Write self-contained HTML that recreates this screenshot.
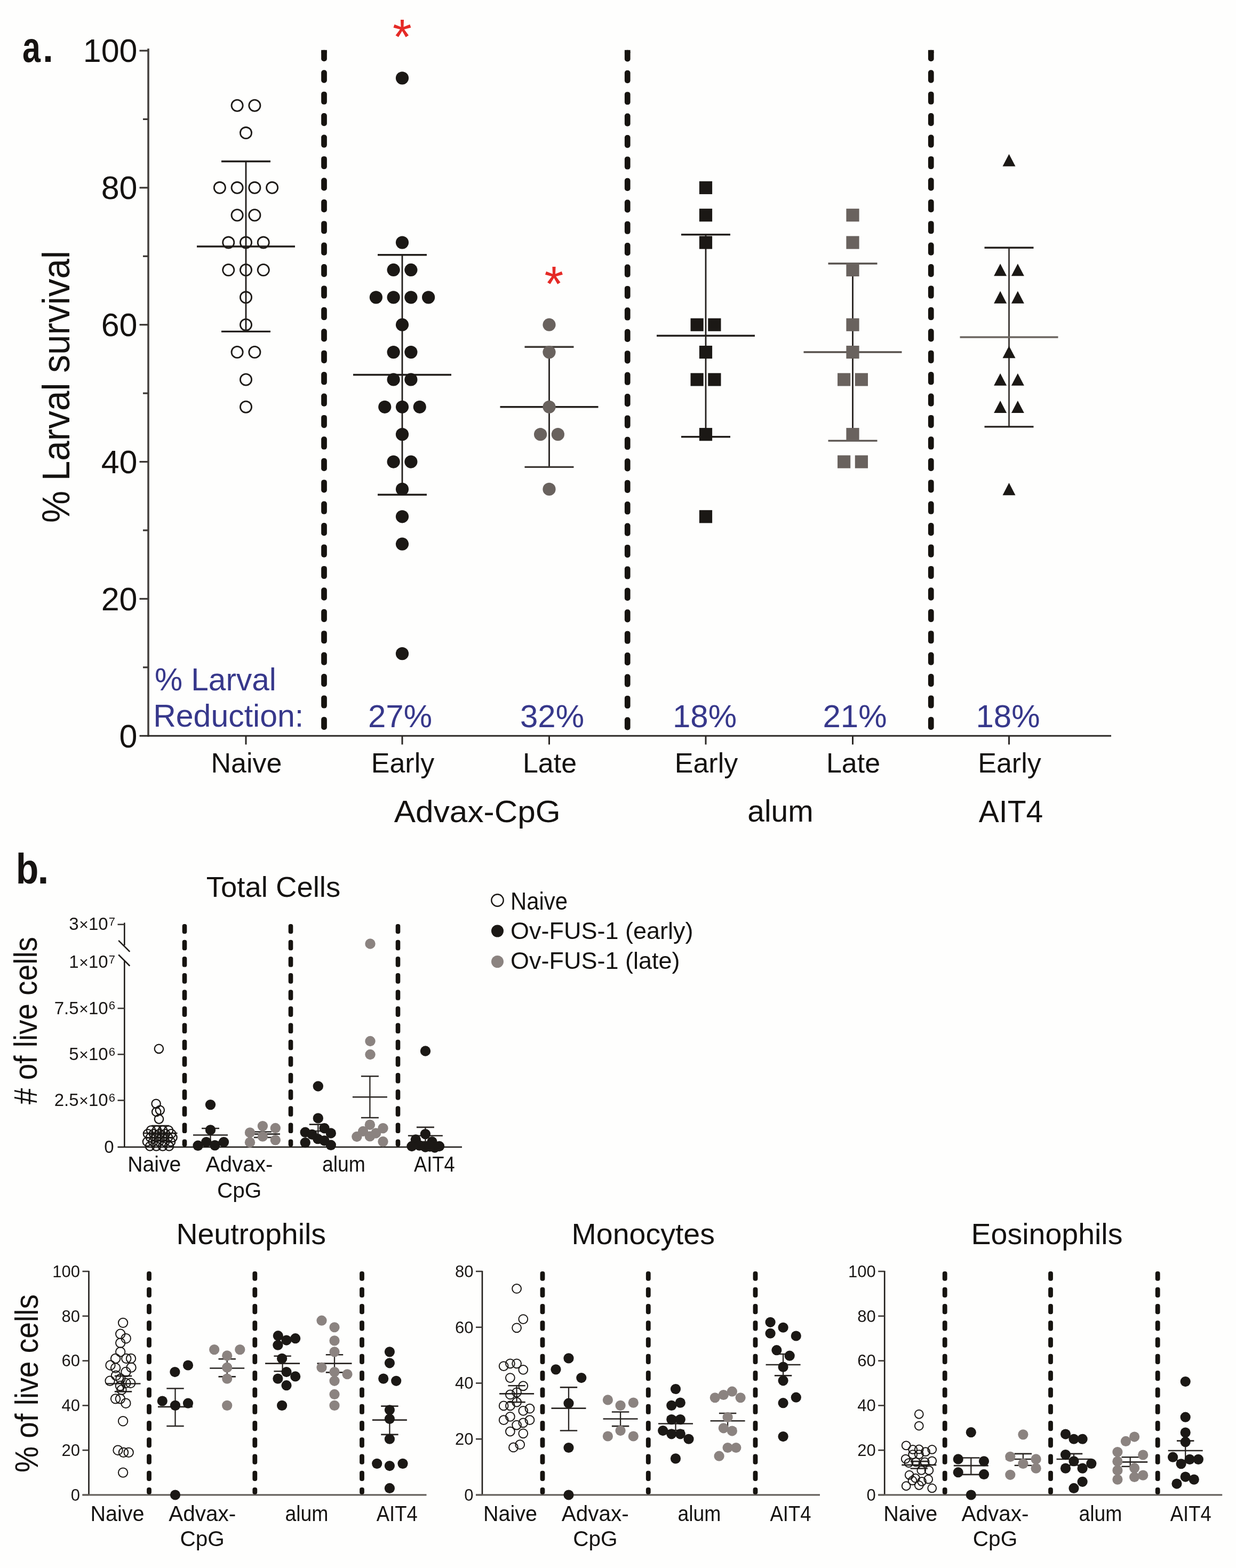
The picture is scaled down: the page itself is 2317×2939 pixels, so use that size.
<!DOCTYPE html>
<html><head><meta charset="utf-8"><title>Figure</title>
<style>
html,body{margin:0;padding:0;background:#fefefd;}
body{width:2317px;height:2939px;overflow:hidden;}
svg{display:block;}
</style></head>
<body>
<svg width="2317" height="2939" viewBox="0 0 2317 2939">
<rect width="2317" height="2939" fill="#fefefd"/>
<g font-family="'Liberation Sans', Arial, Helvetica, sans-serif">
<text x="41.9" y="115.5" font-size="80" text-anchor="start" fill="#161311" font-weight="bold" textLength="33.9" lengthAdjust="spacingAndGlyphs">a</text>
<text x="80.1" y="115.5" font-size="72" text-anchor="start" fill="#161311" font-weight="bold" >.</text>
<line x1="278" y1="91" x2="278" y2="1381" stroke="#45413e" stroke-width="3.6" stroke-linecap="butt"/>
<text x="257.5" y="1400.55" font-size="61" text-anchor="end" fill="#141210" font-weight="normal" >0</text>
<line x1="268" y1="1250.83" x2="278" y2="1250.83" stroke="#3a3633" stroke-width="3.2" stroke-linecap="butt"/>
<line x1="261.5" y1="1122.4" x2="278" y2="1122.4" stroke="#3a3633" stroke-width="3.2" stroke-linecap="butt"/>
<text x="257.5" y="1143.7" font-size="61" text-anchor="end" fill="#141210" font-weight="normal" >20</text>
<line x1="268" y1="993.98" x2="278" y2="993.98" stroke="#3a3633" stroke-width="3.2" stroke-linecap="butt"/>
<line x1="261.5" y1="865.55" x2="278" y2="865.55" stroke="#3a3633" stroke-width="3.2" stroke-linecap="butt"/>
<text x="257.5" y="886.85" font-size="61" text-anchor="end" fill="#141210" font-weight="normal" >40</text>
<line x1="268" y1="737.12" x2="278" y2="737.12" stroke="#3a3633" stroke-width="3.2" stroke-linecap="butt"/>
<line x1="261.5" y1="608.7" x2="278" y2="608.7" stroke="#3a3633" stroke-width="3.2" stroke-linecap="butt"/>
<text x="257.5" y="630" font-size="61" text-anchor="end" fill="#141210" font-weight="normal" >60</text>
<line x1="268" y1="480.28" x2="278" y2="480.28" stroke="#3a3633" stroke-width="3.2" stroke-linecap="butt"/>
<line x1="261.5" y1="351.85" x2="278" y2="351.85" stroke="#3a3633" stroke-width="3.2" stroke-linecap="butt"/>
<text x="257.5" y="373.15" font-size="61" text-anchor="end" fill="#141210" font-weight="normal" >80</text>
<line x1="268" y1="223.42" x2="278" y2="223.42" stroke="#3a3633" stroke-width="3.2" stroke-linecap="butt"/>
<line x1="261.5" y1="95" x2="278" y2="95" stroke="#3a3633" stroke-width="3.2" stroke-linecap="butt"/>
<text x="257.5" y="116.3" font-size="61" text-anchor="end" fill="#141210" font-weight="normal" >100</text>
<text transform="translate(130,980) rotate(-90)" font-size="73" fill="#141210" textLength="510" lengthAdjust="spacingAndGlyphs">% Larval  survival</text>
<line x1="261.5" y1="1379.25" x2="2083" y2="1379.25" stroke="#2b2825" stroke-width="3.2" stroke-linecap="butt"/>
<line x1="461" y1="1379.25" x2="461" y2="1395.5" stroke="#2b2825" stroke-width="3" stroke-linecap="butt"/>
<line x1="754" y1="1379.25" x2="754" y2="1395.5" stroke="#2b2825" stroke-width="3" stroke-linecap="butt"/>
<line x1="1029.5" y1="1379.25" x2="1029.5" y2="1395.5" stroke="#2b2825" stroke-width="3" stroke-linecap="butt"/>
<line x1="1323" y1="1379.25" x2="1323" y2="1395.5" stroke="#2b2825" stroke-width="3" stroke-linecap="butt"/>
<line x1="1598.5" y1="1379.25" x2="1598.5" y2="1395.5" stroke="#2b2825" stroke-width="3" stroke-linecap="butt"/>
<line x1="1891.5" y1="1379.25" x2="1891.5" y2="1395.5" stroke="#2b2825" stroke-width="3" stroke-linecap="butt"/>
<text x="462" y="1447.5" font-size="52" text-anchor="middle" fill="#141210" font-weight="normal" >Naive</text>
<text x="755" y="1447.5" font-size="52" text-anchor="middle" fill="#141210" font-weight="normal" >Early</text>
<text x="1030.5" y="1447.5" font-size="52" text-anchor="middle" fill="#141210" font-weight="normal" >Late</text>
<text x="1324" y="1447.5" font-size="52" text-anchor="middle" fill="#141210" font-weight="normal" >Early</text>
<text x="1599.5" y="1447.5" font-size="52" text-anchor="middle" fill="#141210" font-weight="normal" >Late</text>
<text x="1892.5" y="1447.5" font-size="52" text-anchor="middle" fill="#141210" font-weight="normal" >Early</text>
<text x="894.8" y="1541" font-size="57" text-anchor="middle" fill="#141210" font-weight="normal" textLength="312" lengthAdjust="spacingAndGlyphs">Advax-CpG</text>
<text x="1463" y="1540" font-size="57" text-anchor="middle" fill="#141210" font-weight="normal" >alum</text>
<text x="1895" y="1541" font-size="57" text-anchor="middle" fill="#141210" font-weight="normal" >AIT4</text>
<rect x="602.15" y="93.8" width="10.7" height="21.2" rx="4.81" fill="#16130f"/>
<rect x="602.15" y="93.8" width="10.7" height="5.35" fill="#16130f"/>
<rect x="602.15" y="131.22" width="10.7" height="24.2" rx="4.81" fill="#16130f"/>
<rect x="602.15" y="171.64" width="10.7" height="24.2" rx="4.81" fill="#16130f"/>
<rect x="602.15" y="212.06" width="10.7" height="24.2" rx="4.81" fill="#16130f"/>
<rect x="602.15" y="252.48" width="10.7" height="24.2" rx="4.81" fill="#16130f"/>
<rect x="602.15" y="292.9" width="10.7" height="24.2" rx="4.81" fill="#16130f"/>
<rect x="602.15" y="333.32" width="10.7" height="24.2" rx="4.81" fill="#16130f"/>
<rect x="602.15" y="373.74" width="10.7" height="24.2" rx="4.81" fill="#16130f"/>
<rect x="602.15" y="414.16" width="10.7" height="24.2" rx="4.81" fill="#16130f"/>
<rect x="602.15" y="454.58" width="10.7" height="24.2" rx="4.81" fill="#16130f"/>
<rect x="602.15" y="495" width="10.7" height="24.2" rx="4.81" fill="#16130f"/>
<rect x="602.15" y="535.42" width="10.7" height="24.2" rx="4.81" fill="#16130f"/>
<rect x="602.15" y="575.84" width="10.7" height="24.2" rx="4.81" fill="#16130f"/>
<rect x="602.15" y="616.26" width="10.7" height="24.2" rx="4.81" fill="#16130f"/>
<rect x="602.15" y="656.68" width="10.7" height="24.2" rx="4.81" fill="#16130f"/>
<rect x="602.15" y="697.1" width="10.7" height="24.2" rx="4.81" fill="#16130f"/>
<rect x="602.15" y="737.52" width="10.7" height="24.2" rx="4.81" fill="#16130f"/>
<rect x="602.15" y="777.94" width="10.7" height="24.2" rx="4.81" fill="#16130f"/>
<rect x="602.15" y="818.36" width="10.7" height="24.2" rx="4.81" fill="#16130f"/>
<rect x="602.15" y="858.78" width="10.7" height="24.2" rx="4.81" fill="#16130f"/>
<rect x="602.15" y="899.2" width="10.7" height="24.2" rx="4.81" fill="#16130f"/>
<rect x="602.15" y="939.62" width="10.7" height="24.2" rx="4.81" fill="#16130f"/>
<rect x="602.15" y="980.04" width="10.7" height="24.2" rx="4.81" fill="#16130f"/>
<rect x="602.15" y="1020.46" width="10.7" height="24.2" rx="4.81" fill="#16130f"/>
<rect x="602.15" y="1060.88" width="10.7" height="24.2" rx="4.81" fill="#16130f"/>
<rect x="602.15" y="1101.3" width="10.7" height="24.2" rx="4.81" fill="#16130f"/>
<rect x="602.15" y="1141.72" width="10.7" height="24.2" rx="4.81" fill="#16130f"/>
<rect x="602.15" y="1182.14" width="10.7" height="24.2" rx="4.81" fill="#16130f"/>
<rect x="602.15" y="1222.56" width="10.7" height="24.2" rx="4.81" fill="#16130f"/>
<rect x="602.15" y="1262.98" width="10.7" height="24.2" rx="4.81" fill="#16130f"/>
<rect x="602.15" y="1303.4" width="10.7" height="24.2" rx="4.81" fill="#16130f"/>
<rect x="602.15" y="1343.82" width="10.7" height="24.2" rx="4.81" fill="#16130f"/>
<rect x="1170.9" y="93.8" width="10.7" height="21.7" rx="4.81" fill="#16130f"/>
<rect x="1170.9" y="93.8" width="10.7" height="5.35" fill="#16130f"/>
<rect x="1170.9" y="131.72" width="10.7" height="24.2" rx="4.81" fill="#16130f"/>
<rect x="1170.9" y="172.14" width="10.7" height="24.2" rx="4.81" fill="#16130f"/>
<rect x="1170.9" y="212.56" width="10.7" height="24.2" rx="4.81" fill="#16130f"/>
<rect x="1170.9" y="252.98" width="10.7" height="24.2" rx="4.81" fill="#16130f"/>
<rect x="1170.9" y="293.4" width="10.7" height="24.2" rx="4.81" fill="#16130f"/>
<rect x="1170.9" y="333.82" width="10.7" height="24.2" rx="4.81" fill="#16130f"/>
<rect x="1170.9" y="374.24" width="10.7" height="24.2" rx="4.81" fill="#16130f"/>
<rect x="1170.9" y="414.66" width="10.7" height="24.2" rx="4.81" fill="#16130f"/>
<rect x="1170.9" y="455.08" width="10.7" height="24.2" rx="4.81" fill="#16130f"/>
<rect x="1170.9" y="495.5" width="10.7" height="24.2" rx="4.81" fill="#16130f"/>
<rect x="1170.9" y="535.92" width="10.7" height="24.2" rx="4.81" fill="#16130f"/>
<rect x="1170.9" y="576.34" width="10.7" height="24.2" rx="4.81" fill="#16130f"/>
<rect x="1170.9" y="616.76" width="10.7" height="24.2" rx="4.81" fill="#16130f"/>
<rect x="1170.9" y="657.18" width="10.7" height="24.2" rx="4.81" fill="#16130f"/>
<rect x="1170.9" y="697.6" width="10.7" height="24.2" rx="4.81" fill="#16130f"/>
<rect x="1170.9" y="738.02" width="10.7" height="24.2" rx="4.81" fill="#16130f"/>
<rect x="1170.9" y="778.44" width="10.7" height="24.2" rx="4.81" fill="#16130f"/>
<rect x="1170.9" y="818.86" width="10.7" height="24.2" rx="4.81" fill="#16130f"/>
<rect x="1170.9" y="859.28" width="10.7" height="24.2" rx="4.81" fill="#16130f"/>
<rect x="1170.9" y="899.7" width="10.7" height="24.2" rx="4.81" fill="#16130f"/>
<rect x="1170.9" y="940.12" width="10.7" height="24.2" rx="4.81" fill="#16130f"/>
<rect x="1170.9" y="980.54" width="10.7" height="24.2" rx="4.81" fill="#16130f"/>
<rect x="1170.9" y="1020.96" width="10.7" height="24.2" rx="4.81" fill="#16130f"/>
<rect x="1170.9" y="1061.38" width="10.7" height="24.2" rx="4.81" fill="#16130f"/>
<rect x="1170.9" y="1101.8" width="10.7" height="24.2" rx="4.81" fill="#16130f"/>
<rect x="1170.9" y="1142.22" width="10.7" height="24.2" rx="4.81" fill="#16130f"/>
<rect x="1170.9" y="1182.64" width="10.7" height="24.2" rx="4.81" fill="#16130f"/>
<rect x="1170.9" y="1223.06" width="10.7" height="24.2" rx="4.81" fill="#16130f"/>
<rect x="1170.9" y="1263.48" width="10.7" height="24.2" rx="4.81" fill="#16130f"/>
<rect x="1170.9" y="1303.9" width="10.7" height="24.2" rx="4.81" fill="#16130f"/>
<rect x="1170.9" y="1344.32" width="10.7" height="24.18" rx="4.81" fill="#16130f"/>
<rect x="1739.9" y="93.8" width="10.7" height="21.2" rx="4.81" fill="#16130f"/>
<rect x="1739.9" y="93.8" width="10.7" height="5.35" fill="#16130f"/>
<rect x="1739.9" y="131.22" width="10.7" height="24.2" rx="4.81" fill="#16130f"/>
<rect x="1739.9" y="171.64" width="10.7" height="24.2" rx="4.81" fill="#16130f"/>
<rect x="1739.9" y="212.06" width="10.7" height="24.2" rx="4.81" fill="#16130f"/>
<rect x="1739.9" y="252.48" width="10.7" height="24.2" rx="4.81" fill="#16130f"/>
<rect x="1739.9" y="292.9" width="10.7" height="24.2" rx="4.81" fill="#16130f"/>
<rect x="1739.9" y="333.32" width="10.7" height="24.2" rx="4.81" fill="#16130f"/>
<rect x="1739.9" y="373.74" width="10.7" height="24.2" rx="4.81" fill="#16130f"/>
<rect x="1739.9" y="414.16" width="10.7" height="24.2" rx="4.81" fill="#16130f"/>
<rect x="1739.9" y="454.58" width="10.7" height="24.2" rx="4.81" fill="#16130f"/>
<rect x="1739.9" y="495" width="10.7" height="24.2" rx="4.81" fill="#16130f"/>
<rect x="1739.9" y="535.42" width="10.7" height="24.2" rx="4.81" fill="#16130f"/>
<rect x="1739.9" y="575.84" width="10.7" height="24.2" rx="4.81" fill="#16130f"/>
<rect x="1739.9" y="616.26" width="10.7" height="24.2" rx="4.81" fill="#16130f"/>
<rect x="1739.9" y="656.68" width="10.7" height="24.2" rx="4.81" fill="#16130f"/>
<rect x="1739.9" y="697.1" width="10.7" height="24.2" rx="4.81" fill="#16130f"/>
<rect x="1739.9" y="737.52" width="10.7" height="24.2" rx="4.81" fill="#16130f"/>
<rect x="1739.9" y="777.94" width="10.7" height="24.2" rx="4.81" fill="#16130f"/>
<rect x="1739.9" y="818.36" width="10.7" height="24.2" rx="4.81" fill="#16130f"/>
<rect x="1739.9" y="858.78" width="10.7" height="24.2" rx="4.81" fill="#16130f"/>
<rect x="1739.9" y="899.2" width="10.7" height="24.2" rx="4.81" fill="#16130f"/>
<rect x="1739.9" y="939.62" width="10.7" height="24.2" rx="4.81" fill="#16130f"/>
<rect x="1739.9" y="980.04" width="10.7" height="24.2" rx="4.81" fill="#16130f"/>
<rect x="1739.9" y="1020.46" width="10.7" height="24.2" rx="4.81" fill="#16130f"/>
<rect x="1739.9" y="1060.88" width="10.7" height="24.2" rx="4.81" fill="#16130f"/>
<rect x="1739.9" y="1101.3" width="10.7" height="24.2" rx="4.81" fill="#16130f"/>
<rect x="1739.9" y="1141.72" width="10.7" height="24.2" rx="4.81" fill="#16130f"/>
<rect x="1739.9" y="1182.14" width="10.7" height="24.2" rx="4.81" fill="#16130f"/>
<rect x="1739.9" y="1222.56" width="10.7" height="24.2" rx="4.81" fill="#16130f"/>
<rect x="1739.9" y="1262.98" width="10.7" height="24.2" rx="4.81" fill="#16130f"/>
<rect x="1739.9" y="1303.4" width="10.7" height="24.2" rx="4.81" fill="#16130f"/>
<rect x="1739.9" y="1343.82" width="10.7" height="24.2" rx="4.81" fill="#16130f"/>
<text x="289.9" y="1294" font-size="60" text-anchor="start" fill="#37388b" font-weight="normal" textLength="228" lengthAdjust="spacingAndGlyphs">% Larval</text>
<text x="287.2" y="1362" font-size="60" text-anchor="start" fill="#37388b" font-weight="normal" textLength="282" lengthAdjust="spacingAndGlyphs">Reduction:</text>
<text x="750" y="1362.5" font-size="60" text-anchor="middle" fill="#37388b" font-weight="normal" >27%</text>
<text x="1035" y="1362.5" font-size="60" text-anchor="middle" fill="#37388b" font-weight="normal" >32%</text>
<text x="1321" y="1362.5" font-size="60" text-anchor="middle" fill="#37388b" font-weight="normal" >18%</text>
<text x="1602.5" y="1362.5" font-size="60" text-anchor="middle" fill="#37388b" font-weight="normal" >21%</text>
<text x="1889.5" y="1362.5" font-size="60" text-anchor="middle" fill="#37388b" font-weight="normal" >18%</text>
<line x1="461" y1="302.53" x2="461" y2="621.33" stroke="#221e1b" stroke-width="2.8" stroke-linecap="butt"/>
<line x1="415" y1="302.53" x2="507" y2="302.53" stroke="#221e1b" stroke-width="3.4" stroke-linecap="butt"/>
<line x1="415" y1="621.33" x2="507" y2="621.33" stroke="#221e1b" stroke-width="3.4" stroke-linecap="butt"/>
<line x1="369" y1="461.93" x2="553" y2="461.93" stroke="#221e1b" stroke-width="3.6" stroke-linecap="butt"/>
<circle cx="444.62" cy="197.74" r="10.6" fill="none" stroke="#1e1b18" stroke-width="2.8"/>
<circle cx="477.38" cy="197.74" r="10.6" fill="none" stroke="#1e1b18" stroke-width="2.8"/>
<circle cx="461" cy="249.11" r="10.6" fill="none" stroke="#1e1b18" stroke-width="2.8"/>
<circle cx="411.88" cy="351.85" r="10.6" fill="none" stroke="#1e1b18" stroke-width="2.8"/>
<circle cx="444.62" cy="351.85" r="10.6" fill="none" stroke="#1e1b18" stroke-width="2.8"/>
<circle cx="477.38" cy="351.85" r="10.6" fill="none" stroke="#1e1b18" stroke-width="2.8"/>
<circle cx="510.12" cy="351.85" r="10.6" fill="none" stroke="#1e1b18" stroke-width="2.8"/>
<circle cx="444.62" cy="403.22" r="10.6" fill="none" stroke="#1e1b18" stroke-width="2.8"/>
<circle cx="477.38" cy="403.22" r="10.6" fill="none" stroke="#1e1b18" stroke-width="2.8"/>
<circle cx="428.25" cy="454.59" r="10.6" fill="none" stroke="#1e1b18" stroke-width="2.8"/>
<circle cx="461" cy="454.59" r="10.6" fill="none" stroke="#1e1b18" stroke-width="2.8"/>
<circle cx="493.75" cy="454.59" r="10.6" fill="none" stroke="#1e1b18" stroke-width="2.8"/>
<circle cx="428.25" cy="505.96" r="10.6" fill="none" stroke="#1e1b18" stroke-width="2.8"/>
<circle cx="461" cy="505.96" r="10.6" fill="none" stroke="#1e1b18" stroke-width="2.8"/>
<circle cx="493.75" cy="505.96" r="10.6" fill="none" stroke="#1e1b18" stroke-width="2.8"/>
<circle cx="461" cy="557.33" r="10.6" fill="none" stroke="#1e1b18" stroke-width="2.8"/>
<circle cx="461" cy="608.7" r="10.6" fill="none" stroke="#1e1b18" stroke-width="2.8"/>
<circle cx="444.62" cy="660.07" r="10.6" fill="none" stroke="#1e1b18" stroke-width="2.8"/>
<circle cx="477.38" cy="660.07" r="10.6" fill="none" stroke="#1e1b18" stroke-width="2.8"/>
<circle cx="461" cy="711.44" r="10.6" fill="none" stroke="#1e1b18" stroke-width="2.8"/>
<circle cx="461" cy="762.81" r="10.6" fill="none" stroke="#1e1b18" stroke-width="2.8"/>
<line x1="754" y1="477.71" x2="754" y2="927.31" stroke="#221e1b" stroke-width="2.8" stroke-linecap="butt"/>
<line x1="708" y1="477.71" x2="800" y2="477.71" stroke="#221e1b" stroke-width="3.4" stroke-linecap="butt"/>
<line x1="708" y1="927.31" x2="800" y2="927.31" stroke="#221e1b" stroke-width="3.4" stroke-linecap="butt"/>
<line x1="662" y1="702.51" x2="846" y2="702.51" stroke="#221e1b" stroke-width="3.6" stroke-linecap="butt"/>
<circle cx="754" cy="146.37" r="12.1" fill="#1b1815"/>
<circle cx="754" cy="454.59" r="12.1" fill="#1b1815"/>
<circle cx="737.62" cy="505.96" r="12.1" fill="#1b1815"/>
<circle cx="770.38" cy="505.96" r="12.1" fill="#1b1815"/>
<circle cx="704.88" cy="557.33" r="12.1" fill="#1b1815"/>
<circle cx="737.62" cy="557.33" r="12.1" fill="#1b1815"/>
<circle cx="770.38" cy="557.33" r="12.1" fill="#1b1815"/>
<circle cx="803.12" cy="557.33" r="12.1" fill="#1b1815"/>
<circle cx="754" cy="608.7" r="12.1" fill="#1b1815"/>
<circle cx="737.62" cy="660.07" r="12.1" fill="#1b1815"/>
<circle cx="770.38" cy="660.07" r="12.1" fill="#1b1815"/>
<circle cx="737.62" cy="711.44" r="12.1" fill="#1b1815"/>
<circle cx="770.38" cy="711.44" r="12.1" fill="#1b1815"/>
<circle cx="721.25" cy="762.81" r="12.1" fill="#1b1815"/>
<circle cx="754" cy="762.81" r="12.1" fill="#1b1815"/>
<circle cx="786.75" cy="762.81" r="12.1" fill="#1b1815"/>
<circle cx="754" cy="814.18" r="12.1" fill="#1b1815"/>
<circle cx="737.62" cy="865.55" r="12.1" fill="#1b1815"/>
<circle cx="770.38" cy="865.55" r="12.1" fill="#1b1815"/>
<circle cx="754" cy="916.92" r="12.1" fill="#1b1815"/>
<circle cx="754" cy="968.29" r="12.1" fill="#1b1815"/>
<circle cx="754" cy="1019.66" r="12.1" fill="#1b1815"/>
<circle cx="754" cy="1225.14" r="12.1" fill="#1b1815"/>
<line x1="1029.5" y1="650.26" x2="1029.5" y2="875.36" stroke="#24201d" stroke-width="2.8" stroke-linecap="butt"/>
<line x1="983.5" y1="650.26" x2="1075.5" y2="650.26" stroke="#3c3733" stroke-width="3.4" stroke-linecap="butt"/>
<line x1="983.5" y1="875.36" x2="1075.5" y2="875.36" stroke="#3c3733" stroke-width="3.4" stroke-linecap="butt"/>
<line x1="937.5" y1="762.81" x2="1121.5" y2="762.81" stroke="#24201d" stroke-width="3.6" stroke-linecap="butt"/>
<circle cx="1029.5" cy="608.7" r="12.1" fill="#69625e"/>
<circle cx="1029.5" cy="660.07" r="12.1" fill="#69625e"/>
<circle cx="1029.5" cy="762.81" r="12.1" fill="#69625e"/>
<circle cx="1013.12" cy="814.18" r="12.1" fill="#69625e"/>
<circle cx="1045.88" cy="814.18" r="12.1" fill="#69625e"/>
<circle cx="1029.5" cy="916.92" r="12.1" fill="#69625e"/>
<line x1="1323" y1="439.8" x2="1323" y2="818.69" stroke="#221e1b" stroke-width="2.8" stroke-linecap="butt"/>
<line x1="1277" y1="439.8" x2="1369" y2="439.8" stroke="#221e1b" stroke-width="3.4" stroke-linecap="butt"/>
<line x1="1277" y1="818.69" x2="1369" y2="818.69" stroke="#221e1b" stroke-width="3.4" stroke-linecap="butt"/>
<line x1="1231" y1="629.25" x2="1415" y2="629.25" stroke="#221e1b" stroke-width="3.6" stroke-linecap="butt"/>
<rect x="1310.9" y="339.75" width="24.2" height="24.2" fill="#1b1815"/>
<rect x="1310.9" y="391.12" width="24.2" height="24.2" fill="#1b1815"/>
<rect x="1310.9" y="442.49" width="24.2" height="24.2" fill="#1b1815"/>
<rect x="1294.53" y="596.6" width="24.2" height="24.2" fill="#1b1815"/>
<rect x="1327.28" y="596.6" width="24.2" height="24.2" fill="#1b1815"/>
<rect x="1310.9" y="647.97" width="24.2" height="24.2" fill="#1b1815"/>
<rect x="1294.53" y="699.34" width="24.2" height="24.2" fill="#1b1815"/>
<rect x="1327.28" y="699.34" width="24.2" height="24.2" fill="#1b1815"/>
<rect x="1310.9" y="802.08" width="24.2" height="24.2" fill="#1b1815"/>
<rect x="1310.9" y="956.19" width="24.2" height="24.2" fill="#1b1815"/>
<line x1="1598.5" y1="494.05" x2="1598.5" y2="826.09" stroke="#24201d" stroke-width="2.8" stroke-linecap="butt"/>
<line x1="1552.5" y1="494.05" x2="1644.5" y2="494.05" stroke="#57514d" stroke-width="3.4" stroke-linecap="butt"/>
<line x1="1552.5" y1="826.09" x2="1644.5" y2="826.09" stroke="#57514d" stroke-width="3.4" stroke-linecap="butt"/>
<line x1="1506.5" y1="660.07" x2="1690.5" y2="660.07" stroke="#57514d" stroke-width="3.6" stroke-linecap="butt"/>
<rect x="1586.4" y="391.12" width="24.2" height="24.2" fill="#69625e"/>
<rect x="1586.4" y="442.49" width="24.2" height="24.2" fill="#69625e"/>
<rect x="1586.4" y="493.86" width="24.2" height="24.2" fill="#69625e"/>
<rect x="1586.4" y="596.6" width="24.2" height="24.2" fill="#69625e"/>
<rect x="1586.4" y="647.97" width="24.2" height="24.2" fill="#69625e"/>
<rect x="1570.03" y="699.34" width="24.2" height="24.2" fill="#69625e"/>
<rect x="1602.78" y="699.34" width="24.2" height="24.2" fill="#69625e"/>
<rect x="1586.4" y="802.08" width="24.2" height="24.2" fill="#69625e"/>
<rect x="1570.03" y="853.45" width="24.2" height="24.2" fill="#69625e"/>
<rect x="1602.78" y="853.45" width="24.2" height="24.2" fill="#69625e"/>
<line x1="1891.5" y1="464.23" x2="1891.5" y2="799.87" stroke="#3a3531" stroke-width="2.8" stroke-linecap="butt"/>
<line x1="1845.5" y1="464.23" x2="1937.5" y2="464.23" stroke="#24201d" stroke-width="3.4" stroke-linecap="butt"/>
<line x1="1845.5" y1="799.87" x2="1937.5" y2="799.87" stroke="#24201d" stroke-width="3.4" stroke-linecap="butt"/>
<line x1="1799.5" y1="632.05" x2="1983.5" y2="632.05" stroke="#6a645f" stroke-width="3.6" stroke-linecap="butt"/>
<polygon points="1891.5,288.68 1903.5,311.78 1879.5,311.78" fill="#1b1815"/>
<polygon points="1875.12,494.16 1887.12,517.26 1863.12,517.26" fill="#1b1815"/>
<polygon points="1907.88,494.16 1919.88,517.26 1895.88,517.26" fill="#1b1815"/>
<polygon points="1875.12,545.53 1887.12,568.63 1863.12,568.63" fill="#1b1815"/>
<polygon points="1907.88,545.53 1919.88,568.63 1895.88,568.63" fill="#1b1815"/>
<polygon points="1891.5,648.27 1903.5,671.37 1879.5,671.37" fill="#1b1815"/>
<polygon points="1875.12,699.64 1887.12,722.74 1863.12,722.74" fill="#1b1815"/>
<polygon points="1907.88,699.64 1919.88,722.74 1895.88,722.74" fill="#1b1815"/>
<polygon points="1875.12,751.01 1887.12,774.11 1863.12,774.11" fill="#1b1815"/>
<polygon points="1907.88,751.01 1919.88,774.11 1895.88,774.11" fill="#1b1815"/>
<polygon points="1891.5,905.12 1903.5,928.22 1879.5,928.22" fill="#1b1815"/>
<text x="754" y="100.8" font-size="92" text-anchor="middle" fill="#e52a26" font-weight="normal" >*</text>
<text x="1038.5" y="564" font-size="92" text-anchor="middle" fill="#e52a26" font-weight="normal" >*</text>
<text x="29.7" y="1655.5" font-size="80" text-anchor="start" fill="#161311" font-weight="bold" textLength="42.6" lengthAdjust="spacingAndGlyphs">b</text>
<text x="70.3" y="1655.5" font-size="77" text-anchor="start" fill="#161311" font-weight="bold" >.</text>
<text x="512.5" y="1681" font-size="54.5" text-anchor="middle" fill="#141210" font-weight="normal" >Total Cells</text>
<line x1="233.3" y1="1729.5" x2="233.3" y2="1772" stroke="#1f1c19" stroke-width="2.6" stroke-linecap="butt"/>
<line x1="233.3" y1="1801" x2="233.3" y2="2151" stroke="#1f1c19" stroke-width="2.6" stroke-linecap="butt"/>
<line x1="222.2" y1="1762.8" x2="243.3" y2="1783.8" stroke="#1f1c19" stroke-width="2.6" stroke-linecap="butt"/>
<line x1="222.2" y1="1789.5" x2="243.3" y2="1810.5" stroke="#1f1c19" stroke-width="2.6" stroke-linecap="butt"/>
<line x1="220.5" y1="1732.8" x2="233.3" y2="1732.8" stroke="#3a3633" stroke-width="2.6" stroke-linecap="butt"/>
<line x1="220.5" y1="2062.5" x2="233.3" y2="2062.5" stroke="#3a3633" stroke-width="2.6" stroke-linecap="butt"/>
<line x1="220.5" y1="1976.25" x2="233.3" y2="1976.25" stroke="#3a3633" stroke-width="2.6" stroke-linecap="butt"/>
<line x1="220.5" y1="1890" x2="233.3" y2="1890" stroke="#3a3633" stroke-width="2.6" stroke-linecap="butt"/>
<line x1="220.5" y1="2150" x2="866" y2="2150" stroke="#1f1c19" stroke-width="2.6" stroke-linecap="butt"/>
<text x="147.6" y="1743" font-size="33" text-anchor="end" fill="#1a1715">3</text>
<text x="148.2" y="1743" font-size="30" fill="#1a1715">×</text>
<text x="166" y="1743" font-size="33" fill="#1a1715">1</text>
<text x="184.3" y="1743" font-size="33" fill="#1a1715">0</text>
<text x="203.8" y="1734.7" font-size="22" fill="#1a1715">7</text>
<text x="147.6" y="1814" font-size="33" text-anchor="end" fill="#1a1715">1</text>
<text x="148.2" y="1814" font-size="30" fill="#1a1715">×</text>
<text x="166" y="1814" font-size="33" fill="#1a1715">1</text>
<text x="184.3" y="1814" font-size="33" fill="#1a1715">0</text>
<text x="203.8" y="1805.7" font-size="22" fill="#1a1715">7</text>
<text x="147.6" y="1900.7" font-size="33" text-anchor="end" fill="#1a1715">7.5</text>
<text x="148.2" y="1900.7" font-size="30" fill="#1a1715">×</text>
<text x="166" y="1900.7" font-size="33" fill="#1a1715">1</text>
<text x="184.3" y="1900.7" font-size="33" fill="#1a1715">0</text>
<text x="203.8" y="1892.4" font-size="22" fill="#1a1715">6</text>
<text x="147.6" y="1986.95" font-size="33" text-anchor="end" fill="#1a1715">5</text>
<text x="148.2" y="1986.95" font-size="30" fill="#1a1715">×</text>
<text x="166" y="1986.95" font-size="33" fill="#1a1715">1</text>
<text x="184.3" y="1986.95" font-size="33" fill="#1a1715">0</text>
<text x="203.8" y="1978.65" font-size="22" fill="#1a1715">6</text>
<text x="147.6" y="2073.2" font-size="33" text-anchor="end" fill="#1a1715">2.5</text>
<text x="148.2" y="2073.2" font-size="30" fill="#1a1715">×</text>
<text x="166" y="2073.2" font-size="33" fill="#1a1715">1</text>
<text x="184.3" y="2073.2" font-size="33" fill="#1a1715">0</text>
<text x="203.8" y="2064.9" font-size="22" fill="#1a1715">6</text>
<text x="213.5" y="2160.5" font-size="33" text-anchor="end" fill="#1a1715" font-weight="normal" >0</text>
<text transform="translate(69,2070) rotate(-90)" font-size="61" fill="#141210" textLength="314" lengthAdjust="spacingAndGlyphs"># of live cells</text>
<rect x="341.7" y="1732" width="8.6" height="18.2" rx="3.87" fill="#16130f"/>
<rect x="341.7" y="1761.75" width="8.6" height="19.6" rx="3.87" fill="#16130f"/>
<rect x="341.7" y="1792.9" width="8.6" height="19.6" rx="3.87" fill="#16130f"/>
<rect x="341.7" y="1824.05" width="8.6" height="19.6" rx="3.87" fill="#16130f"/>
<rect x="341.7" y="1855.2" width="8.6" height="19.6" rx="3.87" fill="#16130f"/>
<rect x="341.7" y="1886.35" width="8.6" height="19.6" rx="3.87" fill="#16130f"/>
<rect x="341.7" y="1917.5" width="8.6" height="19.6" rx="3.87" fill="#16130f"/>
<rect x="341.7" y="1948.65" width="8.6" height="19.6" rx="3.87" fill="#16130f"/>
<rect x="341.7" y="1979.8" width="8.6" height="19.6" rx="3.87" fill="#16130f"/>
<rect x="341.7" y="2010.95" width="8.6" height="19.6" rx="3.87" fill="#16130f"/>
<rect x="341.7" y="2042.1" width="8.6" height="19.6" rx="3.87" fill="#16130f"/>
<rect x="341.7" y="2073.25" width="8.6" height="19.6" rx="3.87" fill="#16130f"/>
<rect x="341.7" y="2104.4" width="8.6" height="19.6" rx="3.87" fill="#16130f"/>
<rect x="341.7" y="2135.55" width="8.6" height="13.45" rx="3.87" fill="#16130f"/>
<rect x="540.7" y="1732" width="8.6" height="18.2" rx="3.87" fill="#16130f"/>
<rect x="540.7" y="1761.75" width="8.6" height="19.6" rx="3.87" fill="#16130f"/>
<rect x="540.7" y="1792.9" width="8.6" height="19.6" rx="3.87" fill="#16130f"/>
<rect x="540.7" y="1824.05" width="8.6" height="19.6" rx="3.87" fill="#16130f"/>
<rect x="540.7" y="1855.2" width="8.6" height="19.6" rx="3.87" fill="#16130f"/>
<rect x="540.7" y="1886.35" width="8.6" height="19.6" rx="3.87" fill="#16130f"/>
<rect x="540.7" y="1917.5" width="8.6" height="19.6" rx="3.87" fill="#16130f"/>
<rect x="540.7" y="1948.65" width="8.6" height="19.6" rx="3.87" fill="#16130f"/>
<rect x="540.7" y="1979.8" width="8.6" height="19.6" rx="3.87" fill="#16130f"/>
<rect x="540.7" y="2010.95" width="8.6" height="19.6" rx="3.87" fill="#16130f"/>
<rect x="540.7" y="2042.1" width="8.6" height="19.6" rx="3.87" fill="#16130f"/>
<rect x="540.7" y="2073.25" width="8.6" height="19.6" rx="3.87" fill="#16130f"/>
<rect x="540.7" y="2104.4" width="8.6" height="19.6" rx="3.87" fill="#16130f"/>
<rect x="540.7" y="2135.55" width="8.6" height="13.45" rx="3.87" fill="#16130f"/>
<rect x="741.7" y="1732" width="8.6" height="18.2" rx="3.87" fill="#16130f"/>
<rect x="741.7" y="1761.75" width="8.6" height="19.6" rx="3.87" fill="#16130f"/>
<rect x="741.7" y="1792.9" width="8.6" height="19.6" rx="3.87" fill="#16130f"/>
<rect x="741.7" y="1824.05" width="8.6" height="19.6" rx="3.87" fill="#16130f"/>
<rect x="741.7" y="1855.2" width="8.6" height="19.6" rx="3.87" fill="#16130f"/>
<rect x="741.7" y="1886.35" width="8.6" height="19.6" rx="3.87" fill="#16130f"/>
<rect x="741.7" y="1917.5" width="8.6" height="19.6" rx="3.87" fill="#16130f"/>
<rect x="741.7" y="1948.65" width="8.6" height="19.6" rx="3.87" fill="#16130f"/>
<rect x="741.7" y="1979.8" width="8.6" height="19.6" rx="3.87" fill="#16130f"/>
<rect x="741.7" y="2010.95" width="8.6" height="19.6" rx="3.87" fill="#16130f"/>
<rect x="741.7" y="2042.1" width="8.6" height="19.6" rx="3.87" fill="#16130f"/>
<rect x="741.7" y="2073.25" width="8.6" height="19.6" rx="3.87" fill="#16130f"/>
<rect x="741.7" y="2104.4" width="8.6" height="19.6" rx="3.87" fill="#16130f"/>
<rect x="741.7" y="2135.55" width="8.6" height="13.45" rx="3.87" fill="#16130f"/>
<text x="289.3" y="2196" font-size="40.5" text-anchor="middle" fill="#141210" font-weight="normal" textLength="100" lengthAdjust="spacingAndGlyphs">Naive</text>
<text x="448.5" y="2196" font-size="40.5" text-anchor="middle" fill="#141210" font-weight="normal" >Advax-</text>
<text x="448.7" y="2245.2" font-size="40.5" text-anchor="middle" fill="#141210" font-weight="normal" >CpG</text>
<text x="644.5" y="2196" font-size="40.5" text-anchor="middle" fill="#141210" font-weight="normal" textLength="81" lengthAdjust="spacingAndGlyphs">alum</text>
<text x="814.3" y="2196" font-size="40.5" text-anchor="middle" fill="#141210" font-weight="normal" textLength="76.5" lengthAdjust="spacingAndGlyphs">AIT4</text>
<line x1="300.5" y1="2110" x2="300.5" y2="2138" stroke="#2a2623" stroke-width="2.34" stroke-linecap="butt"/>
<line x1="284" y1="2110" x2="317" y2="2110" stroke="#2a2623" stroke-width="2.6" stroke-linecap="butt"/>
<line x1="284" y1="2138" x2="317" y2="2138" stroke="#2a2623" stroke-width="2.6" stroke-linecap="butt"/>
<line x1="268.5" y1="2124" x2="332.5" y2="2124" stroke="#2a2623" stroke-width="2.6" stroke-linecap="butt"/>
<circle cx="297.9" cy="1965.8" r="8.2" fill="none" stroke="#1b1815" stroke-width="2.3"/>
<circle cx="292.6" cy="2068.8" r="8.2" fill="none" stroke="#1b1815" stroke-width="2.3"/>
<circle cx="299.8" cy="2080.8" r="8.2" fill="none" stroke="#1b1815" stroke-width="2.3"/>
<circle cx="293.2" cy="2084" r="8.2" fill="none" stroke="#1b1815" stroke-width="2.3"/>
<circle cx="298" cy="2097.6" r="8.2" fill="none" stroke="#1b1815" stroke-width="2.3"/>
<circle cx="283" cy="2118.5" r="8.2" fill="none" stroke="#1b1815" stroke-width="2.3"/>
<circle cx="294" cy="2118.5" r="8.2" fill="none" stroke="#1b1815" stroke-width="2.3"/>
<circle cx="305" cy="2118.5" r="8.2" fill="none" stroke="#1b1815" stroke-width="2.3"/>
<circle cx="316" cy="2118.5" r="8.2" fill="none" stroke="#1b1815" stroke-width="2.3"/>
<circle cx="277" cy="2125" r="8.2" fill="none" stroke="#1b1815" stroke-width="2.3"/>
<circle cx="288" cy="2125" r="8.2" fill="none" stroke="#1b1815" stroke-width="2.3"/>
<circle cx="299" cy="2125" r="8.2" fill="none" stroke="#1b1815" stroke-width="2.3"/>
<circle cx="310" cy="2125" r="8.2" fill="none" stroke="#1b1815" stroke-width="2.3"/>
<circle cx="321" cy="2125" r="8.2" fill="none" stroke="#1b1815" stroke-width="2.3"/>
<circle cx="282" cy="2132" r="8.2" fill="none" stroke="#1b1815" stroke-width="2.3"/>
<circle cx="293" cy="2132" r="8.2" fill="none" stroke="#1b1815" stroke-width="2.3"/>
<circle cx="304" cy="2132" r="8.2" fill="none" stroke="#1b1815" stroke-width="2.3"/>
<circle cx="315" cy="2132" r="8.2" fill="none" stroke="#1b1815" stroke-width="2.3"/>
<circle cx="323.5" cy="2132" r="8.2" fill="none" stroke="#1b1815" stroke-width="2.3"/>
<circle cx="276" cy="2140" r="8.2" fill="none" stroke="#1b1815" stroke-width="2.3"/>
<circle cx="287" cy="2140" r="8.2" fill="none" stroke="#1b1815" stroke-width="2.3"/>
<circle cx="298" cy="2140" r="8.2" fill="none" stroke="#1b1815" stroke-width="2.3"/>
<circle cx="309" cy="2140" r="8.2" fill="none" stroke="#1b1815" stroke-width="2.3"/>
<circle cx="320" cy="2140" r="8.2" fill="none" stroke="#1b1815" stroke-width="2.3"/>
<circle cx="281" cy="2148.5" r="8.2" fill="none" stroke="#1b1815" stroke-width="2.3"/>
<circle cx="293" cy="2148.5" r="8.2" fill="none" stroke="#1b1815" stroke-width="2.3"/>
<circle cx="305" cy="2148.5" r="8.2" fill="none" stroke="#1b1815" stroke-width="2.3"/>
<circle cx="317" cy="2148.5" r="8.2" fill="none" stroke="#1b1815" stroke-width="2.3"/>
<line x1="394.5" y1="2115" x2="394.5" y2="2140" stroke="#2a2623" stroke-width="2.34" stroke-linecap="butt"/>
<line x1="378" y1="2115" x2="411" y2="2115" stroke="#2a2623" stroke-width="2.6" stroke-linecap="butt"/>
<line x1="378" y1="2140" x2="411" y2="2140" stroke="#2a2623" stroke-width="2.6" stroke-linecap="butt"/>
<line x1="362" y1="2127.5" x2="427" y2="2127.5" stroke="#2a2623" stroke-width="2.6" stroke-linecap="butt"/>
<circle cx="394.5" cy="2070.6" r="9.7" fill="#1b1815"/>
<circle cx="394.5" cy="2117.9" r="9.7" fill="#1b1815"/>
<circle cx="371.1" cy="2147.3" r="9.7" fill="#1b1815"/>
<circle cx="386.7" cy="2140.6" r="9.7" fill="#1b1815"/>
<circle cx="402.8" cy="2146.8" r="9.7" fill="#1b1815"/>
<circle cx="419.5" cy="2140.6" r="9.7" fill="#1b1815"/>
<line x1="492.4" y1="2121.5" x2="492.4" y2="2132" stroke="#2a2623" stroke-width="2.34" stroke-linecap="butt"/>
<line x1="475.9" y1="2121.5" x2="508.9" y2="2121.5" stroke="#2a2623" stroke-width="2.6" stroke-linecap="butt"/>
<line x1="475.9" y1="2132" x2="508.9" y2="2132" stroke="#2a2623" stroke-width="2.6" stroke-linecap="butt"/>
<line x1="459.9" y1="2125.6" x2="524.9" y2="2125.6" stroke="#2a2623" stroke-width="2.6" stroke-linecap="butt"/>
<circle cx="468.5" cy="2122.9" r="9.7" fill="#8b8380"/>
<circle cx="468.5" cy="2141.2" r="9.7" fill="#8b8380"/>
<circle cx="492.4" cy="2110.6" r="9.7" fill="#8b8380"/>
<circle cx="492.4" cy="2130.1" r="9.7" fill="#8b8380"/>
<circle cx="516.3" cy="2114.5" r="9.7" fill="#8b8380"/>
<circle cx="516.3" cy="2136.8" r="9.7" fill="#8b8380"/>
<line x1="596.3" y1="2107.6" x2="596.3" y2="2132" stroke="#2a2623" stroke-width="2.34" stroke-linecap="butt"/>
<line x1="579.8" y1="2107.6" x2="612.8" y2="2107.6" stroke="#2a2623" stroke-width="2.6" stroke-linecap="butt"/>
<line x1="579.8" y1="2132" x2="612.8" y2="2132" stroke="#2a2623" stroke-width="2.6" stroke-linecap="butt"/>
<line x1="563.8" y1="2120" x2="628.8" y2="2120" stroke="#2a2623" stroke-width="2.6" stroke-linecap="butt"/>
<circle cx="596.3" cy="2036" r="9.7" fill="#1b1815"/>
<circle cx="596.3" cy="2095.9" r="9.7" fill="#1b1815"/>
<circle cx="572.2" cy="2122.3" r="9.7" fill="#1b1815"/>
<circle cx="608" cy="2114.7" r="9.7" fill="#1b1815"/>
<circle cx="620.3" cy="2124" r="9.7" fill="#1b1815"/>
<circle cx="572.2" cy="2141.6" r="9.7" fill="#1b1815"/>
<circle cx="595.7" cy="2134.6" r="9.7" fill="#1b1815"/>
<circle cx="620.3" cy="2146.3" r="9.7" fill="#1b1815"/>
<circle cx="585" cy="2126.4" r="9.7" fill="#1b1815"/>
<circle cx="608" cy="2138" r="9.7" fill="#1b1815"/>
<line x1="693.4" y1="2017.2" x2="693.4" y2="2095" stroke="#2a2623" stroke-width="2.34" stroke-linecap="butt"/>
<line x1="676.9" y1="2017.2" x2="709.9" y2="2017.2" stroke="#2a2623" stroke-width="2.6" stroke-linecap="butt"/>
<line x1="676.9" y1="2095" x2="709.9" y2="2095" stroke="#2a2623" stroke-width="2.6" stroke-linecap="butt"/>
<line x1="660.9" y1="2056.3" x2="725.9" y2="2056.3" stroke="#2a2623" stroke-width="2.6" stroke-linecap="butt"/>
<circle cx="694" cy="1769" r="9.7" fill="#8b8380"/>
<circle cx="694" cy="1951.5" r="9.7" fill="#8b8380"/>
<circle cx="694" cy="1976.5" r="9.7" fill="#8b8380"/>
<circle cx="693.4" cy="2108.2" r="9.7" fill="#8b8380"/>
<circle cx="718" cy="2114.7" r="9.7" fill="#8b8380"/>
<circle cx="680.6" cy="2120.5" r="9.7" fill="#8b8380"/>
<circle cx="668.9" cy="2130.5" r="9.7" fill="#8b8380"/>
<circle cx="693.4" cy="2129.9" r="9.7" fill="#8b8380"/>
<circle cx="704.6" cy="2124" r="9.7" fill="#8b8380"/>
<circle cx="718" cy="2139.8" r="9.7" fill="#8b8380"/>
<line x1="797.4" y1="2112.9" x2="797.4" y2="2140" stroke="#2a2623" stroke-width="2.34" stroke-linecap="butt"/>
<line x1="780.9" y1="2112.9" x2="813.9" y2="2112.9" stroke="#2a2623" stroke-width="2.6" stroke-linecap="butt"/>
<line x1="780.9" y1="2140" x2="813.9" y2="2140" stroke="#2a2623" stroke-width="2.6" stroke-linecap="butt"/>
<line x1="764.9" y1="2128.7" x2="829.9" y2="2128.7" stroke="#2a2623" stroke-width="2.6" stroke-linecap="butt"/>
<circle cx="797.5" cy="1970" r="9.7" fill="#1b1815"/>
<circle cx="797.4" cy="2125.6" r="9.7" fill="#1b1815"/>
<circle cx="779.3" cy="2136" r="9.7" fill="#1b1815"/>
<circle cx="772" cy="2148.5" r="9.7" fill="#1b1815"/>
<circle cx="797.4" cy="2150" r="9.7" fill="#1b1815"/>
<circle cx="823.6" cy="2148.5" r="9.7" fill="#1b1815"/>
<circle cx="810" cy="2140" r="9.7" fill="#1b1815"/>
<circle cx="786" cy="2147" r="9.7" fill="#1b1815"/>
<circle cx="815" cy="2151" r="9.7" fill="#1b1815"/>
<circle cx="806" cy="2149" r="9.7" fill="#1b1815"/>
<circle cx="932.5" cy="1687.5" r="11.2" fill="none" stroke="#1b1815" stroke-width="2.4"/>
<circle cx="932.5" cy="1745" r="11.5" fill="#1b1815"/>
<circle cx="932.5" cy="1802.5" r="11.5" fill="#8b8380"/>
<text x="957" y="1704.5" font-size="46" text-anchor="start" fill="#141210" font-weight="normal" textLength="107" lengthAdjust="spacingAndGlyphs">Naive</text>
<text x="957" y="1760" font-size="45" text-anchor="start" fill="#141210" font-weight="normal" >Ov-FUS-1 (early)</text>
<text x="957" y="1816.25" font-size="45" text-anchor="start" fill="#141210" font-weight="normal" >Ov-FUS-1 (late)</text>
<text x="470.75" y="2331.8" font-size="55.5" text-anchor="middle" fill="#141210" font-weight="normal" >Neutrophils</text>
<line x1="166.5" y1="2382" x2="166.5" y2="2803" stroke="#1f1c19" stroke-width="2.6" stroke-linecap="butt"/>
<line x1="154.5" y1="2802" x2="166.5" y2="2802" stroke="#3a3633" stroke-width="2.6" stroke-linecap="butt"/>
<text x="150" y="2812.8" font-size="31" text-anchor="end" fill="#1a1715" font-weight="normal" >0</text>
<line x1="154.5" y1="2718.2" x2="166.5" y2="2718.2" stroke="#3a3633" stroke-width="2.6" stroke-linecap="butt"/>
<text x="150" y="2729" font-size="31" text-anchor="end" fill="#1a1715" font-weight="normal" >20</text>
<line x1="154.5" y1="2634.4" x2="166.5" y2="2634.4" stroke="#3a3633" stroke-width="2.6" stroke-linecap="butt"/>
<text x="150" y="2645.2" font-size="31" text-anchor="end" fill="#1a1715" font-weight="normal" >40</text>
<line x1="154.5" y1="2550.6" x2="166.5" y2="2550.6" stroke="#3a3633" stroke-width="2.6" stroke-linecap="butt"/>
<text x="150" y="2561.4" font-size="31" text-anchor="end" fill="#1a1715" font-weight="normal" >60</text>
<line x1="154.5" y1="2466.8" x2="166.5" y2="2466.8" stroke="#3a3633" stroke-width="2.6" stroke-linecap="butt"/>
<text x="150" y="2477.6" font-size="31" text-anchor="end" fill="#1a1715" font-weight="normal" >80</text>
<line x1="154.5" y1="2383" x2="166.5" y2="2383" stroke="#3a3633" stroke-width="2.6" stroke-linecap="butt"/>
<text x="150" y="2393.8" font-size="31" text-anchor="end" fill="#1a1715" font-weight="normal" >100</text>
<line x1="154.5" y1="2802" x2="799.5" y2="2802" stroke="#5f5a56" stroke-width="2.8" stroke-linecap="butt"/>
<rect x="275.1" y="2383" width="8.8" height="17.7" rx="3.96" fill="#16130f"/>
<rect x="275.1" y="2412.77" width="8.8" height="19.2" rx="3.96" fill="#16130f"/>
<rect x="275.1" y="2444.04" width="8.8" height="19.2" rx="3.96" fill="#16130f"/>
<rect x="275.1" y="2475.31" width="8.8" height="19.2" rx="3.96" fill="#16130f"/>
<rect x="275.1" y="2506.58" width="8.8" height="19.2" rx="3.96" fill="#16130f"/>
<rect x="275.1" y="2537.85" width="8.8" height="19.2" rx="3.96" fill="#16130f"/>
<rect x="275.1" y="2569.12" width="8.8" height="19.2" rx="3.96" fill="#16130f"/>
<rect x="275.1" y="2600.39" width="8.8" height="19.2" rx="3.96" fill="#16130f"/>
<rect x="275.1" y="2631.66" width="8.8" height="19.2" rx="3.96" fill="#16130f"/>
<rect x="275.1" y="2662.93" width="8.8" height="19.2" rx="3.96" fill="#16130f"/>
<rect x="275.1" y="2694.2" width="8.8" height="19.2" rx="3.96" fill="#16130f"/>
<rect x="275.1" y="2725.47" width="8.8" height="19.2" rx="3.96" fill="#16130f"/>
<rect x="275.1" y="2756.74" width="8.8" height="19.2" rx="3.96" fill="#16130f"/>
<rect x="275.1" y="2788.01" width="8.8" height="12.99" rx="3.96" fill="#16130f"/>
<rect x="473.4" y="2383" width="8.8" height="17.7" rx="3.96" fill="#16130f"/>
<rect x="473.4" y="2412.77" width="8.8" height="19.2" rx="3.96" fill="#16130f"/>
<rect x="473.4" y="2444.04" width="8.8" height="19.2" rx="3.96" fill="#16130f"/>
<rect x="473.4" y="2475.31" width="8.8" height="19.2" rx="3.96" fill="#16130f"/>
<rect x="473.4" y="2506.58" width="8.8" height="19.2" rx="3.96" fill="#16130f"/>
<rect x="473.4" y="2537.85" width="8.8" height="19.2" rx="3.96" fill="#16130f"/>
<rect x="473.4" y="2569.12" width="8.8" height="19.2" rx="3.96" fill="#16130f"/>
<rect x="473.4" y="2600.39" width="8.8" height="19.2" rx="3.96" fill="#16130f"/>
<rect x="473.4" y="2631.66" width="8.8" height="19.2" rx="3.96" fill="#16130f"/>
<rect x="473.4" y="2662.93" width="8.8" height="19.2" rx="3.96" fill="#16130f"/>
<rect x="473.4" y="2694.2" width="8.8" height="19.2" rx="3.96" fill="#16130f"/>
<rect x="473.4" y="2725.47" width="8.8" height="19.2" rx="3.96" fill="#16130f"/>
<rect x="473.4" y="2756.74" width="8.8" height="19.2" rx="3.96" fill="#16130f"/>
<rect x="473.4" y="2788.01" width="8.8" height="12.99" rx="3.96" fill="#16130f"/>
<rect x="674.1" y="2383" width="8.8" height="17.7" rx="3.96" fill="#16130f"/>
<rect x="674.1" y="2412.77" width="8.8" height="19.2" rx="3.96" fill="#16130f"/>
<rect x="674.1" y="2444.04" width="8.8" height="19.2" rx="3.96" fill="#16130f"/>
<rect x="674.1" y="2475.31" width="8.8" height="19.2" rx="3.96" fill="#16130f"/>
<rect x="674.1" y="2506.58" width="8.8" height="19.2" rx="3.96" fill="#16130f"/>
<rect x="674.1" y="2537.85" width="8.8" height="19.2" rx="3.96" fill="#16130f"/>
<rect x="674.1" y="2569.12" width="8.8" height="19.2" rx="3.96" fill="#16130f"/>
<rect x="674.1" y="2600.39" width="8.8" height="19.2" rx="3.96" fill="#16130f"/>
<rect x="674.1" y="2631.66" width="8.8" height="19.2" rx="3.96" fill="#16130f"/>
<rect x="674.1" y="2662.93" width="8.8" height="19.2" rx="3.96" fill="#16130f"/>
<rect x="674.1" y="2694.2" width="8.8" height="19.2" rx="3.96" fill="#16130f"/>
<rect x="674.1" y="2725.47" width="8.8" height="19.2" rx="3.96" fill="#16130f"/>
<rect x="674.1" y="2756.74" width="8.8" height="19.2" rx="3.96" fill="#16130f"/>
<rect x="674.1" y="2788.01" width="8.8" height="12.99" rx="3.96" fill="#16130f"/>
<text x="220" y="2850.5" font-size="40.5" text-anchor="middle" fill="#141210" font-weight="normal" textLength="101" lengthAdjust="spacingAndGlyphs">Naive</text>
<text x="379.2" y="2850.5" font-size="40.5" text-anchor="middle" fill="#141210" font-weight="normal" >Advax-</text>
<text x="379.2" y="2898" font-size="40.5" text-anchor="middle" fill="#141210" font-weight="normal" >CpG</text>
<text x="575" y="2850.5" font-size="40.5" text-anchor="middle" fill="#141210" font-weight="normal" textLength="81" lengthAdjust="spacingAndGlyphs">alum</text>
<text x="744.3" y="2850.5" font-size="40.5" text-anchor="middle" fill="#141210" font-weight="normal" textLength="77" lengthAdjust="spacingAndGlyphs">AIT4</text>
<line x1="231" y1="2579.09" x2="231" y2="2608.42" stroke="#2a2623" stroke-width="2.34" stroke-linecap="butt"/>
<line x1="214.8" y1="2579.09" x2="247.2" y2="2579.09" stroke="#2a2623" stroke-width="2.6" stroke-linecap="butt"/>
<line x1="214.8" y1="2608.42" x2="247.2" y2="2608.42" stroke="#2a2623" stroke-width="2.6" stroke-linecap="butt"/>
<line x1="198.5" y1="2593.55" x2="263.5" y2="2593.55" stroke="#2a2623" stroke-width="2.6" stroke-linecap="butt"/>
<circle cx="230.6" cy="2479.37" r="8.7" fill="none" stroke="#1b1815" stroke-width="2"/>
<circle cx="225.7" cy="2500.32" r="8.7" fill="none" stroke="#1b1815" stroke-width="2"/>
<circle cx="236.2" cy="2508.7" r="8.7" fill="none" stroke="#1b1815" stroke-width="2"/>
<circle cx="225.7" cy="2517.08" r="8.7" fill="none" stroke="#1b1815" stroke-width="2"/>
<circle cx="225.7" cy="2533.84" r="8.7" fill="none" stroke="#1b1815" stroke-width="2"/>
<circle cx="216.6" cy="2546.41" r="8.7" fill="none" stroke="#1b1815" stroke-width="2"/>
<circle cx="236.8" cy="2546.41" r="8.7" fill="none" stroke="#1b1815" stroke-width="2"/>
<circle cx="245.5" cy="2546.41" r="8.7" fill="none" stroke="#1b1815" stroke-width="2"/>
<circle cx="207" cy="2558.98" r="8.7" fill="none" stroke="#1b1815" stroke-width="2"/>
<circle cx="216.6" cy="2564.01" r="8.7" fill="none" stroke="#1b1815" stroke-width="2"/>
<circle cx="246" cy="2563.17" r="8.7" fill="none" stroke="#1b1815" stroke-width="2"/>
<circle cx="235.9" cy="2571.55" r="8.7" fill="none" stroke="#1b1815" stroke-width="2"/>
<circle cx="217.5" cy="2578.25" r="8.7" fill="none" stroke="#1b1815" stroke-width="2"/>
<circle cx="206.1" cy="2588.31" r="8.7" fill="none" stroke="#1b1815" stroke-width="2"/>
<circle cx="225.4" cy="2597.53" r="8.7" fill="none" stroke="#1b1815" stroke-width="2"/>
<circle cx="235.9" cy="2592.5" r="8.7" fill="none" stroke="#1b1815" stroke-width="2"/>
<circle cx="244.7" cy="2592.5" r="8.7" fill="none" stroke="#1b1815" stroke-width="2"/>
<circle cx="226" cy="2584.12" r="8.7" fill="none" stroke="#1b1815" stroke-width="2"/>
<circle cx="216.6" cy="2621.83" r="8.7" fill="none" stroke="#1b1815" stroke-width="2"/>
<circle cx="225.4" cy="2621.83" r="8.7" fill="none" stroke="#1b1815" stroke-width="2"/>
<circle cx="235.9" cy="2630.21" r="8.7" fill="none" stroke="#1b1815" stroke-width="2"/>
<circle cx="230.6" cy="2663.73" r="8.7" fill="none" stroke="#1b1815" stroke-width="2"/>
<circle cx="221" cy="2718.2" r="8.7" fill="none" stroke="#1b1815" stroke-width="2"/>
<circle cx="231.5" cy="2722.39" r="8.7" fill="none" stroke="#1b1815" stroke-width="2"/>
<circle cx="241.2" cy="2722.39" r="8.7" fill="none" stroke="#1b1815" stroke-width="2"/>
<circle cx="230.6" cy="2760.1" r="8.7" fill="none" stroke="#1b1815" stroke-width="2"/>
<circle cx="228" cy="2605.07" r="8.7" fill="none" stroke="#1b1815" stroke-width="2"/>
<line x1="328.5" y1="2602.56" x2="328.5" y2="2672.95" stroke="#2a2623" stroke-width="2.34" stroke-linecap="butt"/>
<line x1="312.3" y1="2602.56" x2="344.7" y2="2602.56" stroke="#2a2623" stroke-width="2.6" stroke-linecap="butt"/>
<line x1="312.3" y1="2672.95" x2="344.7" y2="2672.95" stroke="#2a2623" stroke-width="2.6" stroke-linecap="butt"/>
<line x1="296" y1="2636.91" x2="361" y2="2636.91" stroke="#2a2623" stroke-width="2.6" stroke-linecap="butt"/>
<circle cx="327.9" cy="2571.55" r="9.6" fill="#1b1815"/>
<circle cx="352.5" cy="2558.98" r="9.6" fill="#1b1815"/>
<circle cx="304.3" cy="2626.02" r="9.6" fill="#1b1815"/>
<circle cx="328.5" cy="2634.4" r="9.6" fill="#1b1815"/>
<circle cx="352.5" cy="2630.21" r="9.6" fill="#1b1815"/>
<circle cx="328.5" cy="2802" r="9.6" fill="#1b1815"/>
<line x1="425.7" y1="2547.25" x2="425.7" y2="2580.35" stroke="#2a2623" stroke-width="2.34" stroke-linecap="butt"/>
<line x1="409.5" y1="2547.25" x2="441.9" y2="2547.25" stroke="#2a2623" stroke-width="2.6" stroke-linecap="butt"/>
<line x1="409.5" y1="2580.35" x2="441.9" y2="2580.35" stroke="#2a2623" stroke-width="2.6" stroke-linecap="butt"/>
<line x1="393.2" y1="2564.43" x2="458.2" y2="2564.43" stroke="#2a2623" stroke-width="2.6" stroke-linecap="butt"/>
<circle cx="401.7" cy="2529.65" r="9.6" fill="#8b8380"/>
<circle cx="449.8" cy="2529.65" r="9.6" fill="#8b8380"/>
<circle cx="425.7" cy="2540.96" r="9.6" fill="#8b8380"/>
<circle cx="425.7" cy="2563.17" r="9.6" fill="#8b8380"/>
<circle cx="425.7" cy="2584.12" r="9.6" fill="#8b8380"/>
<circle cx="425.7" cy="2634.4" r="9.6" fill="#8b8380"/>
<line x1="529.6" y1="2541.8" x2="529.6" y2="2570.29" stroke="#2a2623" stroke-width="2.34" stroke-linecap="butt"/>
<line x1="513.4" y1="2541.8" x2="545.8" y2="2541.8" stroke="#2a2623" stroke-width="2.6" stroke-linecap="butt"/>
<line x1="513.4" y1="2570.29" x2="545.8" y2="2570.29" stroke="#2a2623" stroke-width="2.6" stroke-linecap="butt"/>
<line x1="497.1" y1="2555.63" x2="562.1" y2="2555.63" stroke="#2a2623" stroke-width="2.6" stroke-linecap="butt"/>
<circle cx="521.3" cy="2503.67" r="9.6" fill="#1b1815"/>
<circle cx="537" cy="2512.05" r="9.6" fill="#1b1815"/>
<circle cx="553.7" cy="2508.7" r="9.6" fill="#1b1815"/>
<circle cx="520.9" cy="2521.27" r="9.6" fill="#1b1815"/>
<circle cx="528.6" cy="2546.41" r="9.6" fill="#1b1815"/>
<circle cx="537" cy="2571.55" r="9.6" fill="#1b1815"/>
<circle cx="520.9" cy="2584.12" r="9.6" fill="#1b1815"/>
<circle cx="553.7" cy="2579.93" r="9.6" fill="#1b1815"/>
<circle cx="537" cy="2596.69" r="9.6" fill="#1b1815"/>
<circle cx="528.6" cy="2634.4" r="9.6" fill="#1b1815"/>
<line x1="627" y1="2539.29" x2="627" y2="2572.39" stroke="#2a2623" stroke-width="2.34" stroke-linecap="butt"/>
<line x1="610.8" y1="2539.29" x2="643.2" y2="2539.29" stroke="#2a2623" stroke-width="2.6" stroke-linecap="butt"/>
<line x1="610.8" y1="2572.39" x2="643.2" y2="2572.39" stroke="#2a2623" stroke-width="2.6" stroke-linecap="butt"/>
<line x1="594.5" y1="2555.63" x2="659.5" y2="2555.63" stroke="#2a2623" stroke-width="2.6" stroke-linecap="butt"/>
<circle cx="603" cy="2475.18" r="9.6" fill="#8b8380"/>
<circle cx="627" cy="2487.75" r="9.6" fill="#8b8380"/>
<circle cx="627" cy="2512.89" r="9.6" fill="#8b8380"/>
<circle cx="627" cy="2533.84" r="9.6" fill="#8b8380"/>
<circle cx="603" cy="2563.17" r="9.6" fill="#8b8380"/>
<circle cx="627" cy="2571.55" r="9.6" fill="#8b8380"/>
<circle cx="651" cy="2575.74" r="9.6" fill="#8b8380"/>
<circle cx="627" cy="2588.31" r="9.6" fill="#8b8380"/>
<circle cx="627" cy="2613.45" r="9.6" fill="#8b8380"/>
<circle cx="627" cy="2634.4" r="9.6" fill="#8b8380"/>
<line x1="730.4" y1="2635.66" x2="730.4" y2="2688.87" stroke="#2a2623" stroke-width="2.34" stroke-linecap="butt"/>
<line x1="714.2" y1="2635.66" x2="746.6" y2="2635.66" stroke="#2a2623" stroke-width="2.6" stroke-linecap="butt"/>
<line x1="714.2" y1="2688.87" x2="746.6" y2="2688.87" stroke="#2a2623" stroke-width="2.6" stroke-linecap="butt"/>
<line x1="697.9" y1="2661.64" x2="762.9" y2="2661.64" stroke="#2a2623" stroke-width="2.6" stroke-linecap="butt"/>
<circle cx="730.4" cy="2533.84" r="9.6" fill="#1b1815"/>
<circle cx="730.4" cy="2554.79" r="9.6" fill="#1b1815"/>
<circle cx="718.7" cy="2584.12" r="9.6" fill="#1b1815"/>
<circle cx="742.7" cy="2588.31" r="9.6" fill="#1b1815"/>
<circle cx="730.4" cy="2642.78" r="9.6" fill="#1b1815"/>
<circle cx="730.4" cy="2659.54" r="9.6" fill="#1b1815"/>
<circle cx="730.4" cy="2697.25" r="9.6" fill="#1b1815"/>
<circle cx="706.7" cy="2743.34" r="9.6" fill="#1b1815"/>
<circle cx="730.4" cy="2747.53" r="9.6" fill="#1b1815"/>
<circle cx="755" cy="2743.34" r="9.6" fill="#1b1815"/>
<circle cx="730.4" cy="2789.43" r="9.6" fill="#1b1815"/>
<text x="1205.75" y="2331.8" font-size="55.5" text-anchor="middle" fill="#141210" font-weight="normal" >Monocytes</text>
<line x1="904" y1="2382" x2="904" y2="2803" stroke="#1f1c19" stroke-width="2.6" stroke-linecap="butt"/>
<line x1="892" y1="2802" x2="904" y2="2802" stroke="#3a3633" stroke-width="2.6" stroke-linecap="butt"/>
<text x="887.5" y="2812.8" font-size="31" text-anchor="end" fill="#1a1715" font-weight="normal" >0</text>
<line x1="892" y1="2697.25" x2="904" y2="2697.25" stroke="#3a3633" stroke-width="2.6" stroke-linecap="butt"/>
<text x="887.5" y="2708.05" font-size="31" text-anchor="end" fill="#1a1715" font-weight="normal" >20</text>
<line x1="892" y1="2592.5" x2="904" y2="2592.5" stroke="#3a3633" stroke-width="2.6" stroke-linecap="butt"/>
<text x="887.5" y="2603.3" font-size="31" text-anchor="end" fill="#1a1715" font-weight="normal" >40</text>
<line x1="892" y1="2487.75" x2="904" y2="2487.75" stroke="#3a3633" stroke-width="2.6" stroke-linecap="butt"/>
<text x="887.5" y="2498.55" font-size="31" text-anchor="end" fill="#1a1715" font-weight="normal" >60</text>
<line x1="892" y1="2383" x2="904" y2="2383" stroke="#3a3633" stroke-width="2.6" stroke-linecap="butt"/>
<text x="887.5" y="2393.8" font-size="31" text-anchor="end" fill="#1a1715" font-weight="normal" >80</text>
<line x1="892" y1="2802" x2="1537" y2="2802" stroke="#5f5a56" stroke-width="2.8" stroke-linecap="butt"/>
<rect x="1012.6" y="2383" width="8.8" height="17.7" rx="3.96" fill="#16130f"/>
<rect x="1012.6" y="2412.77" width="8.8" height="19.2" rx="3.96" fill="#16130f"/>
<rect x="1012.6" y="2444.04" width="8.8" height="19.2" rx="3.96" fill="#16130f"/>
<rect x="1012.6" y="2475.31" width="8.8" height="19.2" rx="3.96" fill="#16130f"/>
<rect x="1012.6" y="2506.58" width="8.8" height="19.2" rx="3.96" fill="#16130f"/>
<rect x="1012.6" y="2537.85" width="8.8" height="19.2" rx="3.96" fill="#16130f"/>
<rect x="1012.6" y="2569.12" width="8.8" height="19.2" rx="3.96" fill="#16130f"/>
<rect x="1012.6" y="2600.39" width="8.8" height="19.2" rx="3.96" fill="#16130f"/>
<rect x="1012.6" y="2631.66" width="8.8" height="19.2" rx="3.96" fill="#16130f"/>
<rect x="1012.6" y="2662.93" width="8.8" height="19.2" rx="3.96" fill="#16130f"/>
<rect x="1012.6" y="2694.2" width="8.8" height="19.2" rx="3.96" fill="#16130f"/>
<rect x="1012.6" y="2725.47" width="8.8" height="19.2" rx="3.96" fill="#16130f"/>
<rect x="1012.6" y="2756.74" width="8.8" height="19.2" rx="3.96" fill="#16130f"/>
<rect x="1012.6" y="2788.01" width="8.8" height="12.99" rx="3.96" fill="#16130f"/>
<rect x="1210.9" y="2383" width="8.8" height="17.7" rx="3.96" fill="#16130f"/>
<rect x="1210.9" y="2412.77" width="8.8" height="19.2" rx="3.96" fill="#16130f"/>
<rect x="1210.9" y="2444.04" width="8.8" height="19.2" rx="3.96" fill="#16130f"/>
<rect x="1210.9" y="2475.31" width="8.8" height="19.2" rx="3.96" fill="#16130f"/>
<rect x="1210.9" y="2506.58" width="8.8" height="19.2" rx="3.96" fill="#16130f"/>
<rect x="1210.9" y="2537.85" width="8.8" height="19.2" rx="3.96" fill="#16130f"/>
<rect x="1210.9" y="2569.12" width="8.8" height="19.2" rx="3.96" fill="#16130f"/>
<rect x="1210.9" y="2600.39" width="8.8" height="19.2" rx="3.96" fill="#16130f"/>
<rect x="1210.9" y="2631.66" width="8.8" height="19.2" rx="3.96" fill="#16130f"/>
<rect x="1210.9" y="2662.93" width="8.8" height="19.2" rx="3.96" fill="#16130f"/>
<rect x="1210.9" y="2694.2" width="8.8" height="19.2" rx="3.96" fill="#16130f"/>
<rect x="1210.9" y="2725.47" width="8.8" height="19.2" rx="3.96" fill="#16130f"/>
<rect x="1210.9" y="2756.74" width="8.8" height="19.2" rx="3.96" fill="#16130f"/>
<rect x="1210.9" y="2788.01" width="8.8" height="12.99" rx="3.96" fill="#16130f"/>
<rect x="1411.6" y="2383" width="8.8" height="17.7" rx="3.96" fill="#16130f"/>
<rect x="1411.6" y="2412.77" width="8.8" height="19.2" rx="3.96" fill="#16130f"/>
<rect x="1411.6" y="2444.04" width="8.8" height="19.2" rx="3.96" fill="#16130f"/>
<rect x="1411.6" y="2475.31" width="8.8" height="19.2" rx="3.96" fill="#16130f"/>
<rect x="1411.6" y="2506.58" width="8.8" height="19.2" rx="3.96" fill="#16130f"/>
<rect x="1411.6" y="2537.85" width="8.8" height="19.2" rx="3.96" fill="#16130f"/>
<rect x="1411.6" y="2569.12" width="8.8" height="19.2" rx="3.96" fill="#16130f"/>
<rect x="1411.6" y="2600.39" width="8.8" height="19.2" rx="3.96" fill="#16130f"/>
<rect x="1411.6" y="2631.66" width="8.8" height="19.2" rx="3.96" fill="#16130f"/>
<rect x="1411.6" y="2662.93" width="8.8" height="19.2" rx="3.96" fill="#16130f"/>
<rect x="1411.6" y="2694.2" width="8.8" height="19.2" rx="3.96" fill="#16130f"/>
<rect x="1411.6" y="2725.47" width="8.8" height="19.2" rx="3.96" fill="#16130f"/>
<rect x="1411.6" y="2756.74" width="8.8" height="19.2" rx="3.96" fill="#16130f"/>
<rect x="1411.6" y="2788.01" width="8.8" height="12.99" rx="3.96" fill="#16130f"/>
<text x="956.5" y="2850.5" font-size="40.5" text-anchor="middle" fill="#141210" font-weight="normal" textLength="101" lengthAdjust="spacingAndGlyphs">Naive</text>
<text x="1115.8" y="2850.5" font-size="40.5" text-anchor="middle" fill="#141210" font-weight="normal" >Advax-</text>
<text x="1115.8" y="2898" font-size="40.5" text-anchor="middle" fill="#141210" font-weight="normal" >CpG</text>
<text x="1311" y="2850.5" font-size="40.5" text-anchor="middle" fill="#141210" font-weight="normal" textLength="81" lengthAdjust="spacingAndGlyphs">alum</text>
<text x="1482" y="2850.5" font-size="40.5" text-anchor="middle" fill="#141210" font-weight="normal" textLength="77" lengthAdjust="spacingAndGlyphs">AIT4</text>
<line x1="968.6" y1="2597.21" x2="968.6" y2="2628.11" stroke="#2a2623" stroke-width="2.34" stroke-linecap="butt"/>
<line x1="952.4" y1="2597.21" x2="984.8" y2="2597.21" stroke="#2a2623" stroke-width="2.6" stroke-linecap="butt"/>
<line x1="952.4" y1="2628.11" x2="984.8" y2="2628.11" stroke="#2a2623" stroke-width="2.6" stroke-linecap="butt"/>
<line x1="936.1" y1="2612.4" x2="1001.1" y2="2612.4" stroke="#2a2623" stroke-width="2.6" stroke-linecap="butt"/>
<circle cx="968.6" cy="2415.47" r="8.4" fill="none" stroke="#1b1815" stroke-width="2"/>
<circle cx="980.8" cy="2472.56" r="8.4" fill="none" stroke="#1b1815" stroke-width="2"/>
<circle cx="968.6" cy="2488.8" r="8.4" fill="none" stroke="#1b1815" stroke-width="2"/>
<circle cx="944.2" cy="2560.55" r="8.4" fill="none" stroke="#1b1815" stroke-width="2"/>
<circle cx="956.4" cy="2555.84" r="8.4" fill="none" stroke="#1b1815" stroke-width="2"/>
<circle cx="968.6" cy="2555.84" r="8.4" fill="none" stroke="#1b1815" stroke-width="2"/>
<circle cx="980.8" cy="2567.36" r="8.4" fill="none" stroke="#1b1815" stroke-width="2"/>
<circle cx="956.4" cy="2582.55" r="8.4" fill="none" stroke="#1b1815" stroke-width="2"/>
<circle cx="980.8" cy="2597.74" r="8.4" fill="none" stroke="#1b1815" stroke-width="2"/>
<circle cx="956.4" cy="2613.97" r="8.4" fill="none" stroke="#1b1815" stroke-width="2"/>
<circle cx="968.6" cy="2609.78" r="8.4" fill="none" stroke="#1b1815" stroke-width="2"/>
<circle cx="944.2" cy="2634.92" r="8.4" fill="none" stroke="#1b1815" stroke-width="2"/>
<circle cx="956.4" cy="2634.92" r="8.4" fill="none" stroke="#1b1815" stroke-width="2"/>
<circle cx="968.6" cy="2628.11" r="8.4" fill="none" stroke="#1b1815" stroke-width="2"/>
<circle cx="980.8" cy="2644.35" r="8.4" fill="none" stroke="#1b1815" stroke-width="2"/>
<circle cx="993" cy="2640.16" r="8.4" fill="none" stroke="#1b1815" stroke-width="2"/>
<circle cx="944.2" cy="2661.64" r="8.4" fill="none" stroke="#1b1815" stroke-width="2"/>
<circle cx="956.4" cy="2655.35" r="8.4" fill="none" stroke="#1b1815" stroke-width="2"/>
<circle cx="968.6" cy="2671.06" r="8.4" fill="none" stroke="#1b1815" stroke-width="2"/>
<circle cx="980.8" cy="2666.87" r="8.4" fill="none" stroke="#1b1815" stroke-width="2"/>
<circle cx="993" cy="2661.64" r="8.4" fill="none" stroke="#1b1815" stroke-width="2"/>
<circle cx="956.4" cy="2683.11" r="8.4" fill="none" stroke="#1b1815" stroke-width="2"/>
<circle cx="980.8" cy="2686.78" r="8.4" fill="none" stroke="#1b1815" stroke-width="2"/>
<circle cx="962.5" cy="2712.96" r="8.4" fill="none" stroke="#1b1815" stroke-width="2"/>
<circle cx="974.7" cy="2707.72" r="8.4" fill="none" stroke="#1b1815" stroke-width="2"/>
<line x1="1066" y1="2600.36" x2="1066" y2="2681.54" stroke="#2a2623" stroke-width="2.34" stroke-linecap="butt"/>
<line x1="1049.8" y1="2600.36" x2="1082.2" y2="2600.36" stroke="#2a2623" stroke-width="2.6" stroke-linecap="butt"/>
<line x1="1049.8" y1="2681.54" x2="1082.2" y2="2681.54" stroke="#2a2623" stroke-width="2.6" stroke-linecap="butt"/>
<line x1="1033.5" y1="2639.64" x2="1098.5" y2="2639.64" stroke="#2a2623" stroke-width="2.6" stroke-linecap="butt"/>
<circle cx="1066" cy="2545.89" r="9.6" fill="#1b1815"/>
<circle cx="1042" cy="2566.84" r="9.6" fill="#1b1815"/>
<circle cx="1089.8" cy="2582.55" r="9.6" fill="#1b1815"/>
<circle cx="1066" cy="2630.21" r="9.6" fill="#1b1815"/>
<circle cx="1066" cy="2713.49" r="9.6" fill="#1b1815"/>
<circle cx="1066" cy="2802" r="9.6" fill="#1b1815"/>
<line x1="1163.1" y1="2646.45" x2="1163.1" y2="2673.16" stroke="#2a2623" stroke-width="2.34" stroke-linecap="butt"/>
<line x1="1146.9" y1="2646.45" x2="1179.3" y2="2646.45" stroke="#2a2623" stroke-width="2.6" stroke-linecap="butt"/>
<line x1="1146.9" y1="2673.16" x2="1179.3" y2="2673.16" stroke="#2a2623" stroke-width="2.6" stroke-linecap="butt"/>
<line x1="1130.6" y1="2659.54" x2="1195.6" y2="2659.54" stroke="#2a2623" stroke-width="2.6" stroke-linecap="butt"/>
<circle cx="1139.4" cy="2623.93" r="9.6" fill="#8b8380"/>
<circle cx="1163.1" cy="2634.4" r="9.6" fill="#8b8380"/>
<circle cx="1187.3" cy="2629.16" r="9.6" fill="#8b8380"/>
<circle cx="1163.1" cy="2681.54" r="9.6" fill="#8b8380"/>
<circle cx="1139.4" cy="2692.01" r="9.6" fill="#8b8380"/>
<circle cx="1187.3" cy="2692.01" r="9.6" fill="#8b8380"/>
<line x1="1266.5" y1="2655.87" x2="1266.5" y2="2681.01" stroke="#2a2623" stroke-width="2.34" stroke-linecap="butt"/>
<line x1="1250.3" y1="2655.87" x2="1282.7" y2="2655.87" stroke="#2a2623" stroke-width="2.6" stroke-linecap="butt"/>
<line x1="1250.3" y1="2681.01" x2="1282.7" y2="2681.01" stroke="#2a2623" stroke-width="2.6" stroke-linecap="butt"/>
<line x1="1234" y1="2668.44" x2="1299" y2="2668.44" stroke="#2a2623" stroke-width="2.6" stroke-linecap="butt"/>
<circle cx="1266.5" cy="2603.5" r="9.6" fill="#1b1815"/>
<circle cx="1275.3" cy="2629.16" r="9.6" fill="#1b1815"/>
<circle cx="1258.8" cy="2634.4" r="9.6" fill="#1b1815"/>
<circle cx="1258.8" cy="2660.59" r="9.6" fill="#1b1815"/>
<circle cx="1275.3" cy="2660.59" r="9.6" fill="#1b1815"/>
<circle cx="1242.7" cy="2681.54" r="9.6" fill="#1b1815"/>
<circle cx="1258.8" cy="2687.82" r="9.6" fill="#1b1815"/>
<circle cx="1275.3" cy="2687.82" r="9.6" fill="#1b1815"/>
<circle cx="1291" cy="2697.25" r="9.6" fill="#1b1815"/>
<circle cx="1266.5" cy="2733.91" r="9.6" fill="#1b1815"/>
<line x1="1364.1" y1="2649.07" x2="1364.1" y2="2677.35" stroke="#2a2623" stroke-width="2.34" stroke-linecap="butt"/>
<line x1="1347.9" y1="2649.07" x2="1380.3" y2="2649.07" stroke="#2a2623" stroke-width="2.6" stroke-linecap="butt"/>
<line x1="1347.9" y1="2677.35" x2="1380.3" y2="2677.35" stroke="#2a2623" stroke-width="2.6" stroke-linecap="butt"/>
<line x1="1331.6" y1="2663.21" x2="1396.6" y2="2663.21" stroke="#2a2623" stroke-width="2.6" stroke-linecap="butt"/>
<circle cx="1340.3" cy="2619.74" r="9.6" fill="#8b8380"/>
<circle cx="1356.3" cy="2614.5" r="9.6" fill="#8b8380"/>
<circle cx="1372.4" cy="2608.21" r="9.6" fill="#8b8380"/>
<circle cx="1388.1" cy="2619.74" r="9.6" fill="#8b8380"/>
<circle cx="1364.1" cy="2656.4" r="9.6" fill="#8b8380"/>
<circle cx="1356.3" cy="2676.82" r="9.6" fill="#8b8380"/>
<circle cx="1372.4" cy="2682.06" r="9.6" fill="#8b8380"/>
<circle cx="1364.1" cy="2713.49" r="9.6" fill="#8b8380"/>
<circle cx="1379.8" cy="2713.49" r="9.6" fill="#8b8380"/>
<circle cx="1348.1" cy="2729.2" r="9.6" fill="#8b8380"/>
<line x1="1468.1" y1="2538.03" x2="1468.1" y2="2578.36" stroke="#2a2623" stroke-width="2.34" stroke-linecap="butt"/>
<line x1="1451.9" y1="2538.03" x2="1484.3" y2="2538.03" stroke="#2a2623" stroke-width="2.6" stroke-linecap="butt"/>
<line x1="1451.9" y1="2578.36" x2="1484.3" y2="2578.36" stroke="#2a2623" stroke-width="2.6" stroke-linecap="butt"/>
<line x1="1435.6" y1="2557.93" x2="1500.6" y2="2557.93" stroke="#2a2623" stroke-width="2.6" stroke-linecap="butt"/>
<circle cx="1444.1" cy="2478.32" r="9.6" fill="#1b1815"/>
<circle cx="1468.1" cy="2488.27" r="9.6" fill="#1b1815"/>
<circle cx="1444.1" cy="2499.27" r="9.6" fill="#1b1815"/>
<circle cx="1492.3" cy="2503.99" r="9.6" fill="#1b1815"/>
<circle cx="1455.9" cy="2530.7" r="9.6" fill="#1b1815"/>
<circle cx="1480.2" cy="2541.17" r="9.6" fill="#1b1815"/>
<circle cx="1468.1" cy="2562.12" r="9.6" fill="#1b1815"/>
<circle cx="1468.1" cy="2587.79" r="9.6" fill="#1b1815"/>
<circle cx="1492.3" cy="2619.21" r="9.6" fill="#1b1815"/>
<circle cx="1468.1" cy="2629.69" r="9.6" fill="#1b1815"/>
<circle cx="1468.1" cy="2692.54" r="9.6" fill="#1b1815"/>
<text x="1962.5" y="2331.8" font-size="55.5" text-anchor="middle" fill="#141210" font-weight="normal" >Eosinophils</text>
<line x1="1658.2" y1="2382" x2="1658.2" y2="2803" stroke="#1f1c19" stroke-width="2.6" stroke-linecap="butt"/>
<line x1="1646.2" y1="2802" x2="1658.2" y2="2802" stroke="#3a3633" stroke-width="2.6" stroke-linecap="butt"/>
<text x="1641.7" y="2812.8" font-size="31" text-anchor="end" fill="#1a1715" font-weight="normal" >0</text>
<line x1="1646.2" y1="2718.2" x2="1658.2" y2="2718.2" stroke="#3a3633" stroke-width="2.6" stroke-linecap="butt"/>
<text x="1641.7" y="2729" font-size="31" text-anchor="end" fill="#1a1715" font-weight="normal" >20</text>
<line x1="1646.2" y1="2634.4" x2="1658.2" y2="2634.4" stroke="#3a3633" stroke-width="2.6" stroke-linecap="butt"/>
<text x="1641.7" y="2645.2" font-size="31" text-anchor="end" fill="#1a1715" font-weight="normal" >40</text>
<line x1="1646.2" y1="2550.6" x2="1658.2" y2="2550.6" stroke="#3a3633" stroke-width="2.6" stroke-linecap="butt"/>
<text x="1641.7" y="2561.4" font-size="31" text-anchor="end" fill="#1a1715" font-weight="normal" >60</text>
<line x1="1646.2" y1="2466.8" x2="1658.2" y2="2466.8" stroke="#3a3633" stroke-width="2.6" stroke-linecap="butt"/>
<text x="1641.7" y="2477.6" font-size="31" text-anchor="end" fill="#1a1715" font-weight="normal" >80</text>
<line x1="1646.2" y1="2383" x2="1658.2" y2="2383" stroke="#3a3633" stroke-width="2.6" stroke-linecap="butt"/>
<text x="1641.7" y="2393.8" font-size="31" text-anchor="end" fill="#1a1715" font-weight="normal" >100</text>
<line x1="1646.2" y1="2802" x2="2291.2" y2="2802" stroke="#5f5a56" stroke-width="2.8" stroke-linecap="butt"/>
<rect x="1766.8" y="2383" width="8.8" height="17.7" rx="3.96" fill="#16130f"/>
<rect x="1766.8" y="2412.77" width="8.8" height="19.2" rx="3.96" fill="#16130f"/>
<rect x="1766.8" y="2444.04" width="8.8" height="19.2" rx="3.96" fill="#16130f"/>
<rect x="1766.8" y="2475.31" width="8.8" height="19.2" rx="3.96" fill="#16130f"/>
<rect x="1766.8" y="2506.58" width="8.8" height="19.2" rx="3.96" fill="#16130f"/>
<rect x="1766.8" y="2537.85" width="8.8" height="19.2" rx="3.96" fill="#16130f"/>
<rect x="1766.8" y="2569.12" width="8.8" height="19.2" rx="3.96" fill="#16130f"/>
<rect x="1766.8" y="2600.39" width="8.8" height="19.2" rx="3.96" fill="#16130f"/>
<rect x="1766.8" y="2631.66" width="8.8" height="19.2" rx="3.96" fill="#16130f"/>
<rect x="1766.8" y="2662.93" width="8.8" height="19.2" rx="3.96" fill="#16130f"/>
<rect x="1766.8" y="2694.2" width="8.8" height="19.2" rx="3.96" fill="#16130f"/>
<rect x="1766.8" y="2725.47" width="8.8" height="19.2" rx="3.96" fill="#16130f"/>
<rect x="1766.8" y="2756.74" width="8.8" height="19.2" rx="3.96" fill="#16130f"/>
<rect x="1766.8" y="2788.01" width="8.8" height="12.99" rx="3.96" fill="#16130f"/>
<rect x="1965.1" y="2383" width="8.8" height="17.7" rx="3.96" fill="#16130f"/>
<rect x="1965.1" y="2412.77" width="8.8" height="19.2" rx="3.96" fill="#16130f"/>
<rect x="1965.1" y="2444.04" width="8.8" height="19.2" rx="3.96" fill="#16130f"/>
<rect x="1965.1" y="2475.31" width="8.8" height="19.2" rx="3.96" fill="#16130f"/>
<rect x="1965.1" y="2506.58" width="8.8" height="19.2" rx="3.96" fill="#16130f"/>
<rect x="1965.1" y="2537.85" width="8.8" height="19.2" rx="3.96" fill="#16130f"/>
<rect x="1965.1" y="2569.12" width="8.8" height="19.2" rx="3.96" fill="#16130f"/>
<rect x="1965.1" y="2600.39" width="8.8" height="19.2" rx="3.96" fill="#16130f"/>
<rect x="1965.1" y="2631.66" width="8.8" height="19.2" rx="3.96" fill="#16130f"/>
<rect x="1965.1" y="2662.93" width="8.8" height="19.2" rx="3.96" fill="#16130f"/>
<rect x="1965.1" y="2694.2" width="8.8" height="19.2" rx="3.96" fill="#16130f"/>
<rect x="1965.1" y="2725.47" width="8.8" height="19.2" rx="3.96" fill="#16130f"/>
<rect x="1965.1" y="2756.74" width="8.8" height="19.2" rx="3.96" fill="#16130f"/>
<rect x="1965.1" y="2788.01" width="8.8" height="12.99" rx="3.96" fill="#16130f"/>
<rect x="2165.8" y="2383" width="8.8" height="17.7" rx="3.96" fill="#16130f"/>
<rect x="2165.8" y="2412.77" width="8.8" height="19.2" rx="3.96" fill="#16130f"/>
<rect x="2165.8" y="2444.04" width="8.8" height="19.2" rx="3.96" fill="#16130f"/>
<rect x="2165.8" y="2475.31" width="8.8" height="19.2" rx="3.96" fill="#16130f"/>
<rect x="2165.8" y="2506.58" width="8.8" height="19.2" rx="3.96" fill="#16130f"/>
<rect x="2165.8" y="2537.85" width="8.8" height="19.2" rx="3.96" fill="#16130f"/>
<rect x="2165.8" y="2569.12" width="8.8" height="19.2" rx="3.96" fill="#16130f"/>
<rect x="2165.8" y="2600.39" width="8.8" height="19.2" rx="3.96" fill="#16130f"/>
<rect x="2165.8" y="2631.66" width="8.8" height="19.2" rx="3.96" fill="#16130f"/>
<rect x="2165.8" y="2662.93" width="8.8" height="19.2" rx="3.96" fill="#16130f"/>
<rect x="2165.8" y="2694.2" width="8.8" height="19.2" rx="3.96" fill="#16130f"/>
<rect x="2165.8" y="2725.47" width="8.8" height="19.2" rx="3.96" fill="#16130f"/>
<rect x="2165.8" y="2756.74" width="8.8" height="19.2" rx="3.96" fill="#16130f"/>
<rect x="2165.8" y="2788.01" width="8.8" height="12.99" rx="3.96" fill="#16130f"/>
<text x="1706.7" y="2850.5" font-size="40.5" text-anchor="middle" fill="#141210" font-weight="normal" textLength="101" lengthAdjust="spacingAndGlyphs">Naive</text>
<text x="1865.5" y="2850.5" font-size="40.5" text-anchor="middle" fill="#141210" font-weight="normal" >Advax-</text>
<text x="1865.5" y="2898" font-size="40.5" text-anchor="middle" fill="#141210" font-weight="normal" >CpG</text>
<text x="2063" y="2850.5" font-size="40.5" text-anchor="middle" fill="#141210" font-weight="normal" textLength="81" lengthAdjust="spacingAndGlyphs">alum</text>
<text x="2232.2" y="2850.5" font-size="40.5" text-anchor="middle" fill="#141210" font-weight="normal" textLength="77" lengthAdjust="spacingAndGlyphs">AIT4</text>
<line x1="1722.8" y1="2739.15" x2="1722.8" y2="2752.56" stroke="#2a2623" stroke-width="2.34" stroke-linecap="butt"/>
<line x1="1706.6" y1="2739.15" x2="1739" y2="2739.15" stroke="#2a2623" stroke-width="2.6" stroke-linecap="butt"/>
<line x1="1706.6" y1="2752.56" x2="1739" y2="2752.56" stroke="#2a2623" stroke-width="2.6" stroke-linecap="butt"/>
<line x1="1690.3" y1="2745.85" x2="1755.3" y2="2745.85" stroke="#2a2623" stroke-width="2.6" stroke-linecap="butt"/>
<circle cx="1722.8" cy="2650.74" r="7.9" fill="none" stroke="#1b1815" stroke-width="2"/>
<circle cx="1722.8" cy="2672.53" r="7.9" fill="none" stroke="#1b1815" stroke-width="2"/>
<circle cx="1698.7" cy="2709.4" r="7.9" fill="none" stroke="#1b1815" stroke-width="2"/>
<circle cx="1711.2" cy="2716.94" r="7.9" fill="none" stroke="#1b1815" stroke-width="2"/>
<circle cx="1722.8" cy="2716.52" r="7.9" fill="none" stroke="#1b1815" stroke-width="2"/>
<circle cx="1735" cy="2721.13" r="7.9" fill="none" stroke="#1b1815" stroke-width="2"/>
<circle cx="1747.2" cy="2716.94" r="7.9" fill="none" stroke="#1b1815" stroke-width="2"/>
<circle cx="1697.7" cy="2734.54" r="7.9" fill="none" stroke="#1b1815" stroke-width="2"/>
<circle cx="1711.2" cy="2726.16" r="7.9" fill="none" stroke="#1b1815" stroke-width="2"/>
<circle cx="1722.8" cy="2726.16" r="7.9" fill="none" stroke="#1b1815" stroke-width="2"/>
<circle cx="1747.2" cy="2738.31" r="7.9" fill="none" stroke="#1b1815" stroke-width="2"/>
<circle cx="1703.5" cy="2742.08" r="7.9" fill="none" stroke="#1b1815" stroke-width="2"/>
<circle cx="1717" cy="2740.41" r="7.9" fill="none" stroke="#1b1815" stroke-width="2"/>
<circle cx="1733.7" cy="2740.41" r="7.9" fill="none" stroke="#1b1815" stroke-width="2"/>
<circle cx="1741.4" cy="2755.91" r="7.9" fill="none" stroke="#1b1815" stroke-width="2"/>
<circle cx="1727.3" cy="2755.91" r="7.9" fill="none" stroke="#1b1815" stroke-width="2"/>
<circle cx="1704.7" cy="2764.71" r="7.9" fill="none" stroke="#1b1815" stroke-width="2"/>
<circle cx="1716" cy="2770.57" r="7.9" fill="none" stroke="#1b1815" stroke-width="2"/>
<circle cx="1740.2" cy="2772.67" r="7.9" fill="none" stroke="#1b1815" stroke-width="2"/>
<circle cx="1710.5" cy="2775.18" r="7.9" fill="none" stroke="#1b1815" stroke-width="2"/>
<circle cx="1728" cy="2776.86" r="7.9" fill="none" stroke="#1b1815" stroke-width="2"/>
<circle cx="1698.7" cy="2785.24" r="7.9" fill="none" stroke="#1b1815" stroke-width="2"/>
<circle cx="1722.8" cy="2783.98" r="7.9" fill="none" stroke="#1b1815" stroke-width="2"/>
<circle cx="1747.2" cy="2789.43" r="7.9" fill="none" stroke="#1b1815" stroke-width="2"/>
<line x1="1820.3" y1="2732.45" x2="1820.3" y2="2763.87" stroke="#2a2623" stroke-width="2.34" stroke-linecap="butt"/>
<line x1="1804.1" y1="2732.45" x2="1836.5" y2="2732.45" stroke="#2a2623" stroke-width="2.6" stroke-linecap="butt"/>
<line x1="1804.1" y1="2763.87" x2="1836.5" y2="2763.87" stroke="#2a2623" stroke-width="2.6" stroke-linecap="butt"/>
<line x1="1787.8" y1="2747.11" x2="1852.8" y2="2747.11" stroke="#2a2623" stroke-width="2.6" stroke-linecap="butt"/>
<circle cx="1820.3" cy="2684.68" r="9.6" fill="#1b1815"/>
<circle cx="1796.2" cy="2734.96" r="9.6" fill="#1b1815"/>
<circle cx="1844.5" cy="2738.73" r="9.6" fill="#1b1815"/>
<circle cx="1796.2" cy="2759.68" r="9.6" fill="#1b1815"/>
<circle cx="1844.5" cy="2763.45" r="9.6" fill="#1b1815"/>
<circle cx="1820.3" cy="2802" r="9.6" fill="#1b1815"/>
<line x1="1917.9" y1="2724.9" x2="1917.9" y2="2746.69" stroke="#2a2623" stroke-width="2.34" stroke-linecap="butt"/>
<line x1="1901.7" y1="2724.9" x2="1934.1" y2="2724.9" stroke="#2a2623" stroke-width="2.6" stroke-linecap="butt"/>
<line x1="1901.7" y1="2746.69" x2="1934.1" y2="2746.69" stroke="#2a2623" stroke-width="2.6" stroke-linecap="butt"/>
<line x1="1885.4" y1="2734.96" x2="1950.4" y2="2734.96" stroke="#2a2623" stroke-width="2.6" stroke-linecap="butt"/>
<circle cx="1917.9" cy="2688.87" r="9.6" fill="#8b8380"/>
<circle cx="1893.8" cy="2730.35" r="9.6" fill="#8b8380"/>
<circle cx="1942.1" cy="2734.96" r="9.6" fill="#8b8380"/>
<circle cx="1917.9" cy="2743.34" r="9.6" fill="#8b8380"/>
<circle cx="1942.1" cy="2752.14" r="9.6" fill="#8b8380"/>
<circle cx="1893.8" cy="2764.29" r="9.6" fill="#8b8380"/>
<line x1="2013" y1="2724.9" x2="2013" y2="2746.27" stroke="#2a2623" stroke-width="2.34" stroke-linecap="butt"/>
<line x1="1996.8" y1="2724.9" x2="2029.2" y2="2724.9" stroke="#2a2623" stroke-width="2.6" stroke-linecap="butt"/>
<line x1="1996.8" y1="2746.27" x2="2029.2" y2="2746.27" stroke="#2a2623" stroke-width="2.6" stroke-linecap="butt"/>
<line x1="1980.5" y1="2734.96" x2="2045.5" y2="2734.96" stroke="#2a2623" stroke-width="2.6" stroke-linecap="butt"/>
<circle cx="1997.5" cy="2688.03" r="9.6" fill="#1b1815"/>
<circle cx="2013" cy="2697.25" r="9.6" fill="#1b1815"/>
<circle cx="2029.1" cy="2697.25" r="9.6" fill="#1b1815"/>
<circle cx="1997.5" cy="2726.58" r="9.6" fill="#1b1815"/>
<circle cx="2013" cy="2738.73" r="9.6" fill="#1b1815"/>
<circle cx="2045.8" cy="2743.34" r="9.6" fill="#1b1815"/>
<circle cx="1997.5" cy="2752.14" r="9.6" fill="#1b1815"/>
<circle cx="2029.1" cy="2752.14" r="9.6" fill="#1b1815"/>
<circle cx="2029.1" cy="2777.28" r="9.6" fill="#1b1815"/>
<circle cx="2013" cy="2789.43" r="9.6" fill="#1b1815"/>
<line x1="2118.7" y1="2731.19" x2="2118.7" y2="2748.79" stroke="#2a2623" stroke-width="2.34" stroke-linecap="butt"/>
<line x1="2102.5" y1="2731.19" x2="2134.9" y2="2731.19" stroke="#2a2623" stroke-width="2.6" stroke-linecap="butt"/>
<line x1="2102.5" y1="2748.79" x2="2134.9" y2="2748.79" stroke="#2a2623" stroke-width="2.6" stroke-linecap="butt"/>
<line x1="2086.2" y1="2740.41" x2="2151.2" y2="2740.41" stroke="#2a2623" stroke-width="2.6" stroke-linecap="butt"/>
<circle cx="2126.6" cy="2693.06" r="9.6" fill="#8b8380"/>
<circle cx="2110.4" cy="2701.44" r="9.6" fill="#8b8380"/>
<circle cx="2094.9" cy="2721.55" r="9.6" fill="#8b8380"/>
<circle cx="2142.7" cy="2727" r="9.6" fill="#8b8380"/>
<circle cx="2094.9" cy="2739.15" r="9.6" fill="#8b8380"/>
<circle cx="2094.9" cy="2755.91" r="9.6" fill="#8b8380"/>
<circle cx="2126.6" cy="2751.72" r="9.6" fill="#8b8380"/>
<circle cx="2142.7" cy="2765.13" r="9.6" fill="#8b8380"/>
<circle cx="2126.6" cy="2768.48" r="9.6" fill="#8b8380"/>
<circle cx="2094.9" cy="2773.09" r="9.6" fill="#8b8380"/>
<line x1="2222.2" y1="2700.6" x2="2222.2" y2="2737.47" stroke="#2a2623" stroke-width="2.34" stroke-linecap="butt"/>
<line x1="2206" y1="2700.6" x2="2238.4" y2="2700.6" stroke="#2a2623" stroke-width="2.6" stroke-linecap="butt"/>
<line x1="2206" y1="2737.47" x2="2238.4" y2="2737.47" stroke="#2a2623" stroke-width="2.6" stroke-linecap="butt"/>
<line x1="2189.7" y1="2719.04" x2="2254.7" y2="2719.04" stroke="#2a2623" stroke-width="2.6" stroke-linecap="butt"/>
<circle cx="2222.2" cy="2589.57" r="9.6" fill="#1b1815"/>
<circle cx="2222.2" cy="2656.19" r="9.6" fill="#1b1815"/>
<circle cx="2222.2" cy="2685.1" r="9.6" fill="#1b1815"/>
<circle cx="2222.2" cy="2702.7" r="9.6" fill="#1b1815"/>
<circle cx="2198.6" cy="2731.19" r="9.6" fill="#1b1815"/>
<circle cx="2230.2" cy="2735.38" r="9.6" fill="#1b1815"/>
<circle cx="2246.4" cy="2735.38" r="9.6" fill="#1b1815"/>
<circle cx="2214.1" cy="2743.76" r="9.6" fill="#1b1815"/>
<circle cx="2222.2" cy="2768.06" r="9.6" fill="#1b1815"/>
<circle cx="2238.3" cy="2773.09" r="9.6" fill="#1b1815"/>
<circle cx="2206" cy="2781.05" r="9.6" fill="#1b1815"/>
<text transform="translate(71.2,2760) rotate(-90)" font-size="61.5" fill="#141210" textLength="334" lengthAdjust="spacingAndGlyphs">% of live cells</text>
</g>
</svg>
</body></html>
